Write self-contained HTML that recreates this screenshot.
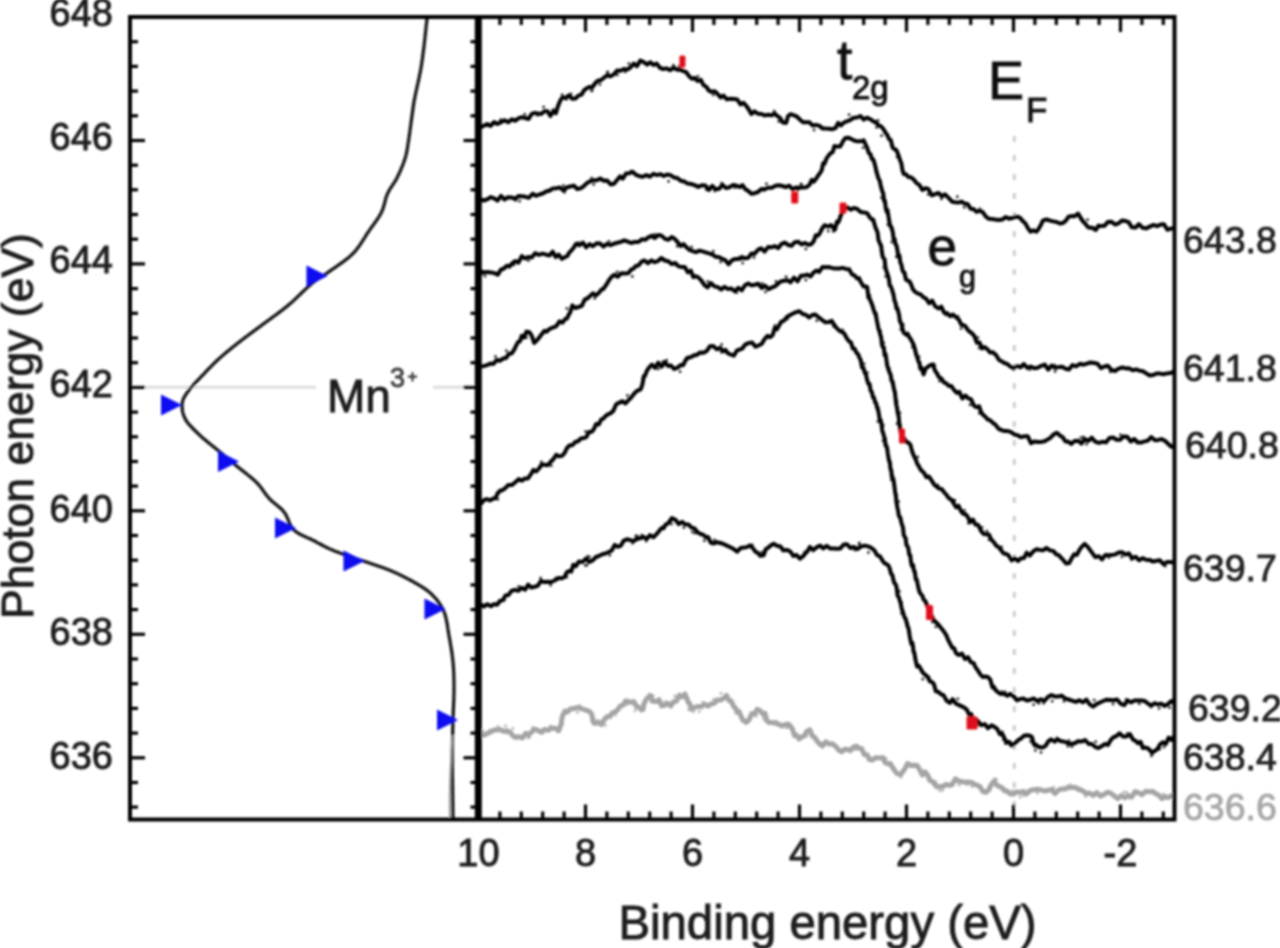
<!DOCTYPE html>
<html><head><meta charset="utf-8"><style>
html,body{margin:0;padding:0;background:#fff;}
svg{display:block;}
</style></head><body>
<svg width="1280" height="948" viewBox="0 0 1280 948">
<defs><filter id="bl" x="-5%" y="-5%" width="110%" height="110%"><feGaussianBlur stdDeviation="1.3"/></filter></defs>
<rect width="1280" height="948" fill="#fff"/>
<g filter="url(#bl)">
<line x1="130.0" y1="387.2" x2="316" y2="387.2" stroke="#dedede" stroke-width="3"/>
<line x1="433" y1="387.2" x2="478" y2="387.2" stroke="#dedede" stroke-width="3"/>
<line x1="1014.3" y1="136" x2="1014.3" y2="819.5" stroke="#cdcdcd" stroke-width="3" stroke-dasharray="6,13"/>
<path d="M480.5,127.5 L483.7,125.8 L487.2,124.0 L490.6,125.9 L494.0,122.1 L497.3,123.9 L500.9,122.4 L504.6,120.2 L508.3,122.2 L511.8,119.2 L515.1,120.8 L518.7,118.1 L522.0,117.3 L525.2,118.0 L528.6,119.0 L531.8,113.8 L534.8,112.9 L537.9,113.6 L541.2,114.0 L544.4,111.3 L547.6,111.2 L550.4,116.0 L553.5,111.2 L555.9,113.2 L557.7,106.9 L559.3,102.8 L560.8,99.5 L562.7,97.4 L565.5,98.0 L568.9,95.3 L572.0,98.7 L575.4,98.5 L578.4,95.6 L581.5,94.6 L584.2,90.1 L586.9,88.2 L589.6,86.9 L592.3,87.2 L595.0,83.5 L597.8,80.7 L600.8,80.2 L603.9,77.7 L607.2,75.3 L610.5,76.4 L613.8,74.4 L617.1,70.4 L620.5,70.7 L623.9,69.0 L627.2,69.6 L630.4,67.5 L633.8,63.7 L636.9,66.1 L640.3,60.6 L643.8,62.1 L647.2,64.6 L650.4,62.2 L653.6,65.0 L656.7,63.6 L659.9,67.8 L663.3,69.0 L666.9,68.4 L670.2,70.3 L673.6,67.6 L677.1,69.8 L680.5,69.8 L683.4,71.1 L686.2,72.2 L689.0,76.2 L692.0,78.7 L694.8,78.0 L697.7,81.0 L700.8,79.8 L703.5,85.1 L706.2,86.7 L708.9,90.6 L711.8,91.9 L714.7,91.2 L717.6,94.0 L720.6,97.5 L723.5,95.6 L726.9,99.4 L730.5,98.7 L734.0,99.1 L737.3,99.5 L740.5,104.4 L743.5,102.7 L746.2,105.8 L748.7,109.2 L751.4,114.1 L754.4,111.3 L757.8,113.7 L761.5,114.0 L764.7,115.4 L768.3,114.8 L771.6,115.4 L774.6,113.5 L777.5,116.2 L780.1,117.9 L782.8,122.6 L786.1,122.9 L788.1,116.0 L790.6,114.2 L794.1,115.3 L797.3,116.9 L800.3,120.0 L803.3,122.3 L806.3,122.3 L809.3,122.3 L812.5,125.4 L815.9,124.9 L819.1,125.6 L822.4,128.4 L825.8,128.6 L828.8,128.7 L832.4,129.2 L835.4,128.2 L838.2,122.9 L841.0,125.4 L843.5,122.8 L846.8,121.3 L850.1,120.2 L853.4,117.8 L857.0,117.5 L860.5,116.0 L863.8,119.7 L866.8,117.7 L870.1,119.1 L873.0,121.1 L875.8,122.4 L878.7,125.4 L881.2,126.5 L883.4,129.0 L885.4,132.5 L887.3,134.9 L889.1,139.2 L890.8,140.1 L892.6,147.6 L894.5,149.3 L896.1,149.6 L897.8,153.5 L899.1,157.2 L900.3,160.8 L901.3,163.0 L902.5,170.3 L903.8,174.1 L905.8,174.2 L908.3,177.0 L910.9,177.2 L913.7,179.6 L916.5,183.1 L919.4,184.9 L922.4,190.0 L925.4,188.2 L928.5,189.1 L931.8,195.4 L935.1,194.1 L938.5,193.0 L941.9,196.2 L945.3,194.5 L948.8,198.2 L952.1,201.7 L955.3,202.2 L958.5,202.6 L961.6,201.6 L964.6,203.6 L967.5,203.9 L970.6,208.7 L973.4,208.9 L976.5,211.8 L979.5,210.9 L982.5,211.8 L985.9,216.6 L988.9,218.8 L991.9,219.1 L995.3,219.6 L998.6,220.0 L1002.2,219.6 L1005.6,217.1 L1009.2,218.7 L1012.8,217.8 L1016.4,216.5 L1019.8,217.6 L1022.8,221.1 L1025.4,223.4 L1027.9,228.2 L1030.4,231.7 L1033.4,230.4 L1036.4,231.7 L1038.4,229.3 L1040.3,226.1 L1043.0,220.4 L1046.6,219.5 L1050.1,220.6 L1053.3,221.4 L1056.5,222.0 L1059.8,223.5 L1063.0,223.1 L1065.8,220.7 L1068.5,216.8 L1071.4,216.1 L1074.7,216.3 L1078.1,213.5 L1080.8,218.3 L1083.5,222.0 L1085.5,223.9 L1087.5,226.7 L1089.5,227.8 L1092.4,227.8 L1095.8,230.0 L1098.5,225.6 L1101.3,226.1 L1104.4,225.8 L1107.7,222.1 L1111.3,221.7 L1115.0,224.5 L1118.6,223.3 L1122.0,220.5 L1125.4,221.0 L1128.6,222.2 L1131.9,227.3 L1135.6,227.5 L1138.9,224.1 L1142.4,227.7 L1146.1,228.4 L1149.8,226.6 L1153.5,224.9 L1157.1,226.2 L1160.5,224.4 L1164.0,224.2 L1167.4,229.8 L1170.8,228.6 L1174.0,228.4 L1174.0,228.3" fill="none" stroke="#000" stroke-width="4.0" stroke-linejoin="round"/>
<rect x="606.3" y="70.6" width="2.6" height="2.6" fill="#000" opacity="0.8"/>
<rect x="677.8" y="65.1" width="2.6" height="2.6" fill="#000" opacity="0.8"/>
<rect x="706.3" y="87.9" width="2.6" height="2.6" fill="#000" opacity="0.8"/>
<rect x="876.7" y="119.1" width="2.6" height="2.6" fill="#000" opacity="0.8"/>
<rect x="812.8" y="128.7" width="2.6" height="2.6" fill="#000" opacity="0.8"/>
<rect x="925.7" y="186.8" width="2.6" height="2.6" fill="#000" opacity="0.8"/>
<rect x="499.5" y="118.3" width="2.6" height="2.6" fill="#000" opacity="0.8"/>
<rect x="616.0" y="73.6" width="2.6" height="2.6" fill="#000" opacity="0.8"/>
<rect x="590.4" y="89.5" width="2.6" height="2.6" fill="#000" opacity="0.8"/>
<rect x="956.0" y="195.4" width="2.6" height="2.6" fill="#000" opacity="0.8"/>
<rect x="536.0" y="114.0" width="2.6" height="2.6" fill="#000" opacity="0.8"/>
<rect x="569.7" y="92.6" width="2.6" height="2.6" fill="#000" opacity="0.8"/>
<rect x="542.3" y="105.7" width="2.6" height="2.6" fill="#000" opacity="0.8"/>
<rect x="895.8" y="155.6" width="2.6" height="2.6" fill="#000" opacity="0.8"/>
<rect x="711.9" y="93.6" width="2.6" height="2.6" fill="#000" opacity="0.8"/>
<rect x="672.1" y="63.9" width="2.6" height="2.6" fill="#000" opacity="0.8"/>
<rect x="847.8" y="113.4" width="2.6" height="2.6" fill="#000" opacity="0.8"/>
<rect x="880.3" y="134.4" width="2.6" height="2.6" fill="#000" opacity="0.8"/>
<rect x="623.9" y="70.6" width="2.6" height="2.6" fill="#000" opacity="0.8"/>
<rect x="606.5" y="71.6" width="2.6" height="2.6" fill="#000" opacity="0.8"/>
<rect x="565.3" y="97.9" width="2.6" height="2.6" fill="#000" opacity="0.8"/>
<rect x="1086.3" y="218.4" width="2.6" height="2.6" fill="#000" opacity="0.8"/>
<rect x="940.2" y="197.6" width="2.6" height="2.6" fill="#000" opacity="0.8"/>
<rect x="777.4" y="120.1" width="2.6" height="2.6" fill="#000" opacity="0.8"/>
<rect x="978.6" y="207.5" width="2.6" height="2.6" fill="#000" opacity="0.8"/>
<rect x="943.0" y="192.6" width="2.6" height="2.6" fill="#000" opacity="0.8"/>
<rect x="696.6" y="75.0" width="2.6" height="2.6" fill="#000" opacity="0.8"/>
<rect x="732.6" y="97.2" width="2.6" height="2.6" fill="#000" opacity="0.8"/>
<rect x="598.6" y="83.1" width="2.6" height="2.6" fill="#000" opacity="0.8"/>
<rect x="963.0" y="206.0" width="2.6" height="2.6" fill="#000" opacity="0.8"/>
<rect x="560.8" y="93.4" width="2.6" height="2.6" fill="#000" opacity="0.8"/>
<rect x="551.8" y="108.3" width="2.6" height="2.6" fill="#000" opacity="0.8"/>
<rect x="720.5" y="94.3" width="2.6" height="2.6" fill="#000" opacity="0.8"/>
<rect x="590.8" y="89.4" width="2.6" height="2.6" fill="#000" opacity="0.8"/>
<rect x="875.3" y="126.1" width="2.6" height="2.6" fill="#000" opacity="0.8"/>
<rect x="523.5" y="112.9" width="2.6" height="2.6" fill="#000" opacity="0.8"/>
<rect x="627.6" y="62.3" width="2.6" height="2.6" fill="#000" opacity="0.8"/>
<rect x="772.9" y="109.8" width="2.6" height="2.6" fill="#000" opacity="0.8"/>
<rect x="926.9" y="193.1" width="2.6" height="2.6" fill="#000" opacity="0.8"/>
<rect x="499.0" y="119.7" width="2.6" height="2.6" fill="#000" opacity="0.8"/>
<path d="M480.5,199.5 L483.7,200.5 L487.3,199.3 L490.7,197.1 L494.2,198.3 L497.5,200.6 L501.0,195.9 L504.5,199.5 L508.0,197.3 L511.5,197.4 L515.0,198.9 L518.5,196.1 L522.0,196.3 L525.5,196.8 L529.0,197.8 L532.6,193.7 L536.0,195.8 L539.3,194.5 L542.7,193.5 L546.1,191.5 L549.7,190.5 L552.9,188.4 L556.3,188.2 L559.8,187.4 L563.5,190.6 L566.6,187.5 L570.3,186.5 L573.9,185.6 L577.2,189.0 L580.7,188.4 L583.8,186.2 L587.2,182.8 L590.4,181.2 L593.5,180.3 L597.0,180.3 L600.2,178.6 L603.8,180.7 L607.2,180.5 L610.7,184.5 L614.0,183.8 L617.3,179.8 L620.0,176.4 L622.8,178.6 L626.0,173.5 L629.4,173.3 L632.6,171.8 L635.9,174.8 L639.5,176.2 L642.9,176.7 L646.5,175.1 L649.9,176.7 L653.5,173.8 L657.2,175.1 L660.5,174.1 L663.7,176.0 L667.2,174.5 L670.5,175.1 L673.9,177.4 L677.3,177.9 L680.7,180.8 L684.2,181.5 L687.7,183.6 L691.1,184.0 L694.6,185.1 L698.2,186.9 L701.8,185.2 L705.4,185.6 L708.9,189.9 L712.3,185.9 L715.6,189.3 L719.3,188.7 L722.4,184.8 L726.0,188.1 L729.4,187.3 L732.7,185.1 L736.2,185.6 L739.8,187.1 L742.5,185.1 L745.2,189.1 L748.3,190.9 L751.4,193.7 L754.7,193.2 L758.0,192.0 L761.4,189.0 L764.7,189.3 L768.1,187.7 L771.8,187.8 L775.5,185.8 L779.0,185.2 L782.4,186.0 L785.7,187.2 L789.2,185.7 L792.7,189.3 L795.9,187.6 L799.3,187.8 L802.9,187.4 L806.5,187.2 L809.5,184.8 L811.8,179.9 L813.8,181.7 L816.1,178.6 L818.6,174.8 L820.5,172.4 L821.8,170.0 L823.1,163.3 L824.5,163.7 L826.7,158.1 L829.3,154.6 L831.4,152.7 L832.8,152.1 L834.4,146.0 L837.1,146.6 L840.4,146.4 L843.0,141.1 L845.4,138.0 L848.8,137.8 L852.1,139.5 L855.2,140.9 L858.4,141.2 L861.4,141.3 L863.7,140.4 L865.4,144.0 L867.1,147.6 L868.8,153.1 L870.5,154.2 L871.8,158.9 L873.1,159.2 L874.3,162.5 L875.4,166.7 L876.6,172.2 L877.7,175.8 L878.7,179.1 L879.7,180.4 L880.6,185.0 L881.5,188.2 L882.3,191.6 L883.2,193.2 L884.1,200.9 L884.9,200.7 L885.8,208.4 L886.7,211.6 L887.5,210.1 L888.4,216.0 L889.3,221.4 L890.1,225.7 L891.0,226.5 L891.9,229.0 L892.8,232.2 L893.7,239.5 L894.6,239.0 L895.5,244.3 L896.4,245.1 L897.5,250.8 L898.5,256.6 L899.4,255.4 L900.4,262.7 L901.3,264.2 L902.4,269.8 L903.4,272.1 L904.5,272.6 L905.9,279.5 L907.4,280.6 L909.0,280.9 L910.9,283.9 L912.9,289.4 L915.2,291.9 L917.5,293.4 L920.5,294.3 L923.4,297.2 L926.2,298.7 L929.1,303.3 L932.2,300.6 L935.1,306.2 L938.3,308.5 L941.3,306.6 L944.1,312.6 L947.3,313.3 L950.1,316.1 L953.0,314.6 L955.7,316.9 L958.6,319.2 L961.3,324.7 L963.7,325.2 L965.8,326.7 L967.7,329.9 L969.7,331.8 L972.0,333.3 L974.4,336.1 L976.9,342.7 L979.5,342.4 L982.0,348.4 L984.6,347.0 L987.4,349.3 L990.1,352.5 L992.9,352.3 L996.0,355.0 L998.9,359.8 L1001.9,361.4 L1004.5,363.2 L1007.3,364.0 L1010.6,366.8 L1013.8,367.6 L1017.4,366.0 L1020.6,367.3 L1023.8,364.0 L1027.4,367.9 L1030.8,366.6 L1034.3,368.3 L1037.7,367.7 L1041.3,365.8 L1044.8,364.6 L1048.2,369.6 L1051.6,365.6 L1055.2,367.7 L1058.9,367.1 L1062.2,366.7 L1065.6,368.8 L1069.0,369.5 L1072.5,365.0 L1076.1,366.4 L1079.8,363.8 L1083.4,364.7 L1087.0,363.6 L1090.5,362.5 L1094.0,362.9 L1097.5,363.7 L1100.9,368.1 L1104.4,366.5 L1107.9,365.7 L1111.4,370.0 L1115.0,371.0 L1118.6,368.6 L1122.3,367.5 L1125.9,368.4 L1129.4,368.4 L1132.8,370.2 L1136.2,369.4 L1139.4,370.6 L1142.9,371.3 L1146.3,373.4 L1149.7,375.5 L1153.0,375.1 L1156.6,373.5 L1159.9,373.6 L1163.4,374.2 L1166.8,373.4 L1170.4,373.1 L1173.7,371.5 L1174.0,373.9" fill="none" stroke="#000" stroke-width="4.0" stroke-linejoin="round"/>
<rect x="762.7" y="189.0" width="2.6" height="2.6" fill="#000" opacity="0.8"/>
<rect x="896.5" y="247.2" width="2.6" height="2.6" fill="#000" opacity="0.8"/>
<rect x="733.5" y="186.3" width="2.6" height="2.6" fill="#000" opacity="0.8"/>
<rect x="800.0" y="183.0" width="2.6" height="2.6" fill="#000" opacity="0.8"/>
<rect x="876.4" y="175.3" width="2.6" height="2.6" fill="#000" opacity="0.8"/>
<rect x="890.5" y="240.7" width="2.6" height="2.6" fill="#000" opacity="0.8"/>
<rect x="905.3" y="277.5" width="2.6" height="2.6" fill="#000" opacity="0.8"/>
<rect x="590.2" y="176.8" width="2.6" height="2.6" fill="#000" opacity="0.8"/>
<rect x="1028.5" y="368.2" width="2.6" height="2.6" fill="#000" opacity="0.8"/>
<rect x="1126.8" y="366.4" width="2.6" height="2.6" fill="#000" opacity="0.8"/>
<rect x="518.4" y="199.8" width="2.6" height="2.6" fill="#000" opacity="0.8"/>
<rect x="977.8" y="346.7" width="2.6" height="2.6" fill="#000" opacity="0.8"/>
<rect x="592.4" y="183.1" width="2.6" height="2.6" fill="#000" opacity="0.8"/>
<rect x="944.3" y="313.6" width="2.6" height="2.6" fill="#000" opacity="0.8"/>
<rect x="959.8" y="327.2" width="2.6" height="2.6" fill="#000" opacity="0.8"/>
<rect x="765.2" y="182.5" width="2.6" height="2.6" fill="#000" opacity="0.8"/>
<rect x="720.4" y="181.8" width="2.6" height="2.6" fill="#000" opacity="0.8"/>
<rect x="1053.5" y="363.9" width="2.6" height="2.6" fill="#000" opacity="0.8"/>
<rect x="896.4" y="247.5" width="2.6" height="2.6" fill="#000" opacity="0.8"/>
<rect x="713.5" y="189.7" width="2.6" height="2.6" fill="#000" opacity="0.8"/>
<rect x="514.5" y="199.0" width="2.6" height="2.6" fill="#000" opacity="0.8"/>
<rect x="861.8" y="146.4" width="2.6" height="2.6" fill="#000" opacity="0.8"/>
<rect x="895.0" y="255.5" width="2.6" height="2.6" fill="#000" opacity="0.8"/>
<rect x="799.6" y="182.8" width="2.6" height="2.6" fill="#000" opacity="0.8"/>
<rect x="705.0" y="188.4" width="2.6" height="2.6" fill="#000" opacity="0.8"/>
<rect x="976.5" y="336.2" width="2.6" height="2.6" fill="#000" opacity="0.8"/>
<rect x="890.9" y="227.1" width="2.6" height="2.6" fill="#000" opacity="0.8"/>
<rect x="629.7" y="169.8" width="2.6" height="2.6" fill="#000" opacity="0.8"/>
<rect x="956.6" y="315.1" width="2.6" height="2.6" fill="#000" opacity="0.8"/>
<rect x="667.3" y="180.0" width="2.6" height="2.6" fill="#000" opacity="0.8"/>
<rect x="563.4" y="190.9" width="2.6" height="2.6" fill="#000" opacity="0.8"/>
<rect x="1003.1" y="361.2" width="2.6" height="2.6" fill="#000" opacity="0.8"/>
<rect x="1012.5" y="368.2" width="2.6" height="2.6" fill="#000" opacity="0.8"/>
<rect x="879.2" y="185.9" width="2.6" height="2.6" fill="#000" opacity="0.8"/>
<rect x="562.1" y="184.3" width="2.6" height="2.6" fill="#000" opacity="0.8"/>
<rect x="1108.9" y="370.5" width="2.6" height="2.6" fill="#000" opacity="0.8"/>
<rect x="796.5" y="188.7" width="2.6" height="2.6" fill="#000" opacity="0.8"/>
<rect x="1053.8" y="370.1" width="2.6" height="2.6" fill="#000" opacity="0.8"/>
<rect x="880.3" y="196.4" width="2.6" height="2.6" fill="#000" opacity="0.8"/>
<rect x="886.6" y="223.4" width="2.6" height="2.6" fill="#000" opacity="0.8"/>
<path d="M480.5,271.0 L483.8,272.4 L487.4,272.0 L490.9,272.4 L494.5,273.1 L497.8,274.7 L500.9,269.6 L503.9,268.5 L506.9,265.7 L509.4,266.6 L512.4,263.1 L515.2,261.1 L518.5,262.6 L521.8,256.1 L525.0,258.5 L528.2,257.1 L531.7,257.4 L535.1,253.2 L538.8,254.8 L542.5,253.6 L546.1,254.6 L549.5,255.5 L552.7,251.6 L555.7,257.1 L558.7,254.6 L561.9,258.9 L565.1,257.0 L567.2,256.2 L568.7,253.4 L570.5,251.3 L573.1,248.5 L576.1,243.8 L579.3,245.3 L582.9,242.5 L586.2,247.4 L589.6,244.1 L592.9,246.2 L596.6,243.3 L600.1,243.5 L603.4,246.6 L607.0,243.9 L610.5,245.2 L613.9,243.7 L617.3,242.8 L620.8,241.8 L624.3,240.4 L627.8,241.7 L631.2,243.0 L634.8,241.9 L638.4,242.0 L641.9,239.3 L645.4,239.8 L648.6,237.1 L651.7,236.0 L654.8,238.0 L658.3,234.9 L661.5,235.6 L665.0,238.9 L668.5,239.8 L671.7,237.1 L674.7,238.7 L677.6,242.1 L680.7,246.0 L683.6,244.1 L686.5,247.3 L689.5,249.9 L692.7,251.1 L695.9,252.2 L699.4,250.6 L702.5,251.4 L705.6,252.3 L709.0,253.3 L712.4,254.5 L715.4,256.7 L718.7,257.0 L722.0,258.8 L725.3,260.2 L728.6,264.2 L732.0,260.2 L735.4,259.0 L738.7,259.0 L742.2,257.8 L745.3,258.2 L748.5,257.7 L751.5,253.4 L754.6,253.8 L757.8,249.9 L761.1,248.3 L764.6,251.6 L768.0,247.1 L771.4,247.3 L774.9,246.1 L778.1,248.2 L781.2,244.2 L784.8,242.6 L788.3,245.0 L791.5,245.8 L794.8,242.2 L798.1,241.7 L801.7,244.5 L805.0,242.9 L808.2,244.7 L811.2,244.3 L813.7,241.3 L815.8,235.2 L817.8,235.8 L819.7,233.5 L821.9,228.8 L824.6,225.2 L827.9,226.5 L831.5,225.4 L834.9,229.7 L837.0,221.6 L838.2,222.4 L839.3,220.1 L840.5,216.2 L842.0,212.9 L844.2,208.3 L847.5,207.5 L850.7,209.7 L853.8,208.0 L857.3,208.9 L860.6,211.9 L863.8,212.4 L867.1,213.1 L869.8,217.3 L871.8,219.4 L873.2,219.5 L874.6,224.7 L875.8,228.5 L876.8,230.4 L877.7,233.2 L878.5,240.2 L879.4,242.0 L880.2,244.1 L881.1,245.6 L882.0,252.9 L882.8,257.2 L883.7,258.1 L884.6,259.5 L885.4,267.0 L886.3,270.7 L887.2,273.3 L888.0,275.4 L888.9,279.0 L889.7,285.4 L890.6,286.1 L891.5,288.0 L892.5,291.3 L893.5,294.6 L894.5,300.7 L895.5,302.9 L896.5,308.6 L897.3,308.2 L898.1,310.9 L899.1,314.9 L900.0,321.7 L901.0,322.7 L902.2,327.1 L903.4,332.1 L905.1,334.0 L907.5,333.6 L909.3,337.2 L910.8,339.2 L912.4,342.4 L913.7,344.8 L915.0,349.5 L916.2,354.5 L917.5,358.1 L918.5,361.6 L919.4,362.5 L920.3,368.8 L921.4,367.7 L923.6,374.3 L925.6,368.5 L927.5,367.1 L930.2,365.2 L932.9,364.4 L934.9,370.4 L936.9,373.3 L939.0,377.2 L941.4,378.5 L943.9,382.3 L946.5,383.6 L949.0,386.0 L951.4,386.1 L954.0,389.9 L956.8,392.8 L959.3,391.9 L962.3,398.5 L965.4,395.5 L968.2,398.4 L971.0,399.1 L974.0,405.8 L976.6,407.2 L979.1,406.3 L981.4,412.8 L983.4,415.1 L985.4,416.7 L987.7,419.5 L990.0,420.1 L992.6,422.6 L995.6,424.9 L998.6,428.8 L1001.6,430.1 L1004.7,431.1 L1007.9,431.0 L1011.1,432.2 L1014.3,434.3 L1017.7,435.4 L1021.1,437.1 L1024.5,436.2 L1027.8,436.3 L1031.0,443.1 L1034.3,441.6 L1037.9,442.0 L1041.4,441.9 L1044.6,441.3 L1047.4,439.6 L1050.3,437.9 L1053.6,434.5 L1056.8,432.7 L1060.0,435.6 L1062.8,437.3 L1065.5,441.5 L1068.2,441.6 L1071.2,443.9 L1074.6,441.0 L1078.1,440.7 L1081.4,443.6 L1084.9,439.1 L1088.4,440.9 L1091.7,437.6 L1095.2,441.7 L1098.7,442.9 L1102.4,441.8 L1105.9,442.4 L1109.4,437.9 L1113.0,437.5 L1116.6,439.8 L1120.1,439.7 L1123.5,436.4 L1127.2,436.8 L1130.8,441.5 L1134.3,439.0 L1137.7,442.5 L1141.0,442.6 L1144.6,441.4 L1147.9,440.6 L1151.2,437.0 L1155.0,440.3 L1158.3,439.9 L1161.5,439.1 L1164.9,440.8 L1168.1,443.8 L1171.3,446.8 L1174.0,445.8" fill="none" stroke="#000" stroke-width="4.0" stroke-linejoin="round"/>
<rect x="882.5" y="266.2" width="2.6" height="2.6" fill="#000" opacity="0.8"/>
<rect x="738.4" y="255.8" width="2.6" height="2.6" fill="#000" opacity="0.8"/>
<rect x="512.7" y="263.5" width="2.6" height="2.6" fill="#000" opacity="0.8"/>
<rect x="752.7" y="256.2" width="2.6" height="2.6" fill="#000" opacity="0.8"/>
<rect x="1119.3" y="433.5" width="2.6" height="2.6" fill="#000" opacity="0.8"/>
<rect x="831.9" y="230.1" width="2.6" height="2.6" fill="#000" opacity="0.8"/>
<rect x="933.5" y="363.8" width="2.6" height="2.6" fill="#000" opacity="0.8"/>
<rect x="911.0" y="345.6" width="2.6" height="2.6" fill="#000" opacity="0.8"/>
<rect x="836.6" y="221.6" width="2.6" height="2.6" fill="#000" opacity="0.8"/>
<rect x="829.3" y="223.1" width="2.6" height="2.6" fill="#000" opacity="0.8"/>
<rect x="653.5" y="233.1" width="2.6" height="2.6" fill="#000" opacity="0.8"/>
<rect x="899.5" y="328.2" width="2.6" height="2.6" fill="#000" opacity="0.8"/>
<rect x="1079.6" y="436.4" width="2.6" height="2.6" fill="#000" opacity="0.8"/>
<rect x="968.8" y="403.5" width="2.6" height="2.6" fill="#000" opacity="0.8"/>
<rect x="607.6" y="240.0" width="2.6" height="2.6" fill="#000" opacity="0.8"/>
<rect x="480.7" y="272.6" width="2.6" height="2.6" fill="#000" opacity="0.8"/>
<rect x="826.9" y="229.7" width="2.6" height="2.6" fill="#000" opacity="0.8"/>
<rect x="938.3" y="379.8" width="2.6" height="2.6" fill="#000" opacity="0.8"/>
<rect x="887.2" y="277.9" width="2.6" height="2.6" fill="#000" opacity="0.8"/>
<rect x="719.4" y="260.7" width="2.6" height="2.6" fill="#000" opacity="0.8"/>
<rect x="978.0" y="411.9" width="2.6" height="2.6" fill="#000" opacity="0.8"/>
<rect x="740.8" y="254.8" width="2.6" height="2.6" fill="#000" opacity="0.8"/>
<rect x="922.1" y="373.5" width="2.6" height="2.6" fill="#000" opacity="0.8"/>
<rect x="902.1" y="323.3" width="2.6" height="2.6" fill="#000" opacity="0.8"/>
<rect x="477.4" y="266.4" width="2.6" height="2.6" fill="#000" opacity="0.8"/>
<rect x="711.3" y="252.6" width="2.6" height="2.6" fill="#000" opacity="0.8"/>
<rect x="917.7" y="355.4" width="2.6" height="2.6" fill="#000" opacity="0.8"/>
<rect x="675.9" y="244.9" width="2.6" height="2.6" fill="#000" opacity="0.8"/>
<rect x="651.0" y="233.7" width="2.6" height="2.6" fill="#000" opacity="0.8"/>
<rect x="527.0" y="259.3" width="2.6" height="2.6" fill="#000" opacity="0.8"/>
<rect x="483.7" y="274.8" width="2.6" height="2.6" fill="#000" opacity="0.8"/>
<rect x="884.4" y="275.1" width="2.6" height="2.6" fill="#000" opacity="0.8"/>
<rect x="577.1" y="241.3" width="2.6" height="2.6" fill="#000" opacity="0.8"/>
<rect x="1085.2" y="442.8" width="2.6" height="2.6" fill="#000" opacity="0.8"/>
<rect x="741.4" y="261.7" width="2.6" height="2.6" fill="#000" opacity="0.8"/>
<rect x="905.2" y="334.5" width="2.6" height="2.6" fill="#000" opacity="0.8"/>
<rect x="690.2" y="245.7" width="2.6" height="2.6" fill="#000" opacity="0.8"/>
<rect x="712.0" y="249.9" width="2.6" height="2.6" fill="#000" opacity="0.8"/>
<rect x="1082.1" y="435.7" width="2.6" height="2.6" fill="#000" opacity="0.8"/>
<rect x="804.6" y="247.6" width="2.6" height="2.6" fill="#000" opacity="0.8"/>
<path d="M480.5,366.6 L483.6,366.1 L487.0,365.1 L490.4,363.6 L493.6,363.9 L496.6,359.9 L499.8,360.7 L503.2,358.5 L506.0,358.0 L508.8,354.0 L511.7,353.3 L514.1,349.8 L516.1,345.6 L518.0,342.1 L519.9,341.4 L521.8,335.7 L523.8,337.7 L526.5,331.6 L529.5,332.3 L531.8,335.8 L534.1,343.0 L537.2,340.1 L539.8,336.8 L542.3,333.4 L544.5,330.7 L546.7,331.7 L549.4,329.0 L552.6,327.6 L556.1,326.4 L559.5,321.4 L562.5,322.6 L565.1,319.1 L567.0,318.5 L568.5,315.1 L570.2,312.4 L572.4,305.4 L575.3,308.0 L578.5,307.0 L581.8,305.8 L584.7,299.6 L587.3,298.4 L590.1,295.9 L593.0,293.3 L595.8,295.5 L598.7,293.0 L601.4,289.7 L603.9,288.2 L606.5,284.5 L609.1,280.0 L611.7,276.7 L614.3,274.8 L617.7,276.8 L621.3,273.2 L624.8,273.4 L628.2,273.3 L631.2,269.6 L633.7,268.5 L635.9,265.9 L638.4,265.6 L641.5,261.7 L644.6,260.4 L647.9,263.3 L651.5,260.4 L654.8,262.2 L658.0,261.0 L661.3,258.0 L664.8,260.5 L668.3,261.3 L671.8,264.1 L675.2,263.0 L678.5,266.4 L681.7,267.1 L684.8,267.0 L687.8,272.4 L690.7,270.6 L693.3,277.1 L695.9,276.2 L698.5,277.5 L701.3,280.5 L704.5,285.1 L707.6,287.4 L710.9,283.0 L714.4,286.4 L717.8,287.1 L721.3,289.5 L724.5,286.8 L727.7,288.9 L731.4,288.5 L734.8,291.3 L738.3,287.8 L741.8,290.3 L745.0,285.2 L748.2,283.4 L751.4,285.4 L754.8,284.7 L758.3,283.8 L761.7,288.0 L765.1,285.7 L768.5,289.2 L771.6,287.6 L774.8,286.4 L777.6,284.1 L780.7,281.4 L784.0,280.7 L787.2,280.2 L790.5,282.4 L794.0,277.6 L797.6,281.3 L800.9,275.8 L804.1,275.6 L807.2,274.6 L810.5,276.4 L813.4,272.7 L816.3,270.6 L819.2,271.9 L822.5,267.0 L825.8,267.2 L829.0,267.1 L832.8,268.2 L836.0,268.5 L839.1,268.5 L842.7,267.9 L846.0,268.9 L849.1,269.2 L852.0,274.4 L854.8,275.6 L857.1,278.6 L859.0,278.1 L860.9,282.3 L863.5,286.4 L866.3,286.5 L867.2,287.3 L867.8,292.3 L868.5,297.9 L869.2,297.6 L870.5,300.8 L872.1,304.6 L873.7,309.8 L875.0,313.7 L875.7,313.5 L876.2,317.2 L877.0,321.4 L877.8,325.1 L878.6,329.5 L879.5,331.1 L880.4,335.2 L881.2,337.6 L882.0,345.0 L882.9,347.2 L883.8,347.2 L884.6,355.3 L885.5,354.0 L886.3,358.9 L887.2,365.6 L888.0,368.0 L888.9,371.0 L889.8,372.9 L890.7,375.0 L891.6,380.9 L892.5,381.5 L893.3,385.5 L894.1,389.9 L894.8,391.5 L895.4,397.0 L896.0,402.7 L896.5,405.7 L897.1,408.1 L897.6,412.2 L898.2,414.8 L898.7,416.3 L899.1,422.1 L899.6,424.2 L900.2,429.6 L900.9,433.8 L902.2,434.8 L904.1,438.5 L906.4,441.8 L908.7,442.8 L910.4,444.8 L911.9,450.7 L913.3,454.6 L914.5,457.1 L915.9,460.0 L917.3,463.9 L918.8,466.2 L920.3,469.2 L922.0,471.1 L924.1,473.0 L926.4,477.2 L928.8,476.5 L931.7,480.6 L934.3,484.8 L936.7,486.6 L939.2,488.6 L941.6,489.0 L944.3,492.5 L946.6,495.0 L948.9,498.3 L951.2,499.5 L953.7,503.5 L956.2,507.3 L958.4,505.6 L960.8,510.7 L963.1,513.8 L965.4,514.1 L967.8,517.1 L970.3,522.2 L972.9,519.5 L975.5,524.6 L978.2,525.0 L981.0,530.8 L983.6,534.1 L986.2,534.2 L988.8,534.4 L991.3,539.6 L993.8,542.1 L996.2,545.7 L998.5,547.0 L1000.9,550.0 L1003.7,553.4 L1006.2,554.0 L1008.7,555.5 L1011.7,560.5 L1014.6,558.0 L1018.0,560.9 L1021.0,558.2 L1024.0,558.1 L1026.7,552.7 L1029.7,555.7 L1033.1,551.4 L1036.6,549.2 L1039.8,549.9 L1043.1,550.3 L1046.4,548.0 L1049.9,550.4 L1053.5,551.1 L1056.3,554.4 L1058.7,555.1 L1060.7,557.3 L1063.0,559.7 L1066.3,563.6 L1069.2,563.0 L1071.6,558.4 L1074.1,554.2 L1076.9,554.9 L1079.3,550.1 L1081.8,546.6 L1084.7,543.9 L1088.0,547.2 L1090.0,549.9 L1091.6,552.1 L1093.3,554.4 L1095.5,557.2 L1098.8,556.2 L1101.9,559.5 L1105.4,554.9 L1108.5,555.2 L1111.6,555.1 L1115.2,554.4 L1118.6,552.6 L1122.0,552.2 L1125.4,554.6 L1128.8,553.4 L1132.2,558.3 L1135.6,556.7 L1139.1,560.3 L1142.6,558.1 L1146.1,559.7 L1149.6,559.9 L1153.0,561.6 L1156.6,560.8 L1159.9,560.2 L1163.4,564.3 L1166.8,562.1 L1170.4,562.0 L1173.7,562.4 L1174.0,563.5" fill="none" stroke="#000" stroke-width="4.0" stroke-linejoin="round"/>
<rect x="880.1" y="335.2" width="2.6" height="2.6" fill="#000" opacity="0.8"/>
<rect x="804.6" y="278.7" width="2.6" height="2.6" fill="#000" opacity="0.8"/>
<rect x="525.0" y="336.4" width="2.6" height="2.6" fill="#000" opacity="0.8"/>
<rect x="593.4" y="297.0" width="2.6" height="2.6" fill="#000" opacity="0.8"/>
<rect x="494.2" y="355.1" width="2.6" height="2.6" fill="#000" opacity="0.8"/>
<rect x="953.3" y="499.2" width="2.6" height="2.6" fill="#000" opacity="0.8"/>
<rect x="1120.6" y="555.5" width="2.6" height="2.6" fill="#000" opacity="0.8"/>
<rect x="602.4" y="288.3" width="2.6" height="2.6" fill="#000" opacity="0.8"/>
<rect x="615.9" y="270.6" width="2.6" height="2.6" fill="#000" opacity="0.8"/>
<rect x="1164.0" y="564.8" width="2.6" height="2.6" fill="#000" opacity="0.8"/>
<rect x="980.7" y="526.0" width="2.6" height="2.6" fill="#000" opacity="0.8"/>
<rect x="868.6" y="294.1" width="2.6" height="2.6" fill="#000" opacity="0.8"/>
<rect x="706.5" y="280.2" width="2.6" height="2.6" fill="#000" opacity="0.8"/>
<rect x="895.8" y="422.4" width="2.6" height="2.6" fill="#000" opacity="0.8"/>
<rect x="987.8" y="538.5" width="2.6" height="2.6" fill="#000" opacity="0.8"/>
<rect x="916.4" y="455.6" width="2.6" height="2.6" fill="#000" opacity="0.8"/>
<rect x="764.2" y="290.6" width="2.6" height="2.6" fill="#000" opacity="0.8"/>
<rect x="1107.6" y="556.3" width="2.6" height="2.6" fill="#000" opacity="0.8"/>
<rect x="967.0" y="521.8" width="2.6" height="2.6" fill="#000" opacity="0.8"/>
<rect x="505.1" y="349.5" width="2.6" height="2.6" fill="#000" opacity="0.8"/>
<rect x="774.7" y="280.1" width="2.6" height="2.6" fill="#000" opacity="0.8"/>
<rect x="882.5" y="341.6" width="2.6" height="2.6" fill="#000" opacity="0.8"/>
<rect x="1000.4" y="545.7" width="2.6" height="2.6" fill="#000" opacity="0.8"/>
<rect x="1130.1" y="558.2" width="2.6" height="2.6" fill="#000" opacity="0.8"/>
<rect x="892.2" y="382.7" width="2.6" height="2.6" fill="#000" opacity="0.8"/>
<rect x="784.8" y="275.4" width="2.6" height="2.6" fill="#000" opacity="0.8"/>
<rect x="735.4" y="291.3" width="2.6" height="2.6" fill="#000" opacity="0.8"/>
<rect x="888.1" y="367.5" width="2.6" height="2.6" fill="#000" opacity="0.8"/>
<rect x="953.4" y="499.1" width="2.6" height="2.6" fill="#000" opacity="0.8"/>
<rect x="761.1" y="282.2" width="2.6" height="2.6" fill="#000" opacity="0.8"/>
<rect x="936.6" y="483.7" width="2.6" height="2.6" fill="#000" opacity="0.8"/>
<rect x="898.6" y="411.5" width="2.6" height="2.6" fill="#000" opacity="0.8"/>
<rect x="565.6" y="307.2" width="2.6" height="2.6" fill="#000" opacity="0.8"/>
<rect x="879.2" y="329.6" width="2.6" height="2.6" fill="#000" opacity="0.8"/>
<rect x="895.8" y="400.1" width="2.6" height="2.6" fill="#000" opacity="0.8"/>
<rect x="985.6" y="529.8" width="2.6" height="2.6" fill="#000" opacity="0.8"/>
<rect x="963.0" y="509.0" width="2.6" height="2.6" fill="#000" opacity="0.8"/>
<rect x="631.0" y="275.1" width="2.6" height="2.6" fill="#000" opacity="0.8"/>
<rect x="952.2" y="498.8" width="2.6" height="2.6" fill="#000" opacity="0.8"/>
<rect x="899.2" y="426.3" width="2.6" height="2.6" fill="#000" opacity="0.8"/>
<path d="M480.5,504.3 L483.7,500.4 L486.7,499.0 L489.9,500.4 L492.8,498.7 L495.4,498.3 L497.6,493.4 L499.9,490.8 L502.4,490.2 L505.3,488.2 L508.4,484.9 L511.8,485.1 L515.3,482.3 L518.7,479.1 L521.9,480.8 L524.9,478.4 L527.8,478.6 L530.6,474.7 L533.5,469.9 L536.2,471.5 L539.0,468.5 L541.8,464.4 L544.7,464.8 L547.7,465.2 L550.5,462.0 L553.5,459.0 L556.2,454.8 L558.9,456.4 L561.9,455.9 L564.5,453.2 L567.2,447.7 L569.8,445.2 L572.4,445.2 L575.2,442.0 L578.0,441.3 L580.9,438.5 L583.6,438.1 L586.3,437.1 L589.0,432.0 L591.5,431.8 L593.8,429.3 L596.2,423.9 L598.8,424.5 L601.1,419.6 L603.5,418.5 L605.8,415.8 L608.3,414.2 L610.7,413.1 L613.3,410.9 L616.2,404.3 L619.4,402.6 L622.6,401.2 L625.5,403.5 L628.1,400.5 L630.9,397.9 L633.7,394.2 L636.4,391.3 L638.8,390.1 L640.8,389.2 L642.2,385.1 L643.1,380.7 L643.9,375.9 L645.0,375.8 L646.5,371.6 L648.7,367.9 L651.9,364.6 L655.0,367.9 L658.3,362.6 L661.5,366.7 L664.9,362.2 L668.1,366.0 L671.0,365.6 L674.3,369.0 L677.5,367.7 L680.6,365.1 L683.2,365.2 L685.5,360.4 L687.8,357.7 L690.6,357.2 L693.7,355.5 L696.9,354.8 L700.2,352.4 L703.5,352.7 L706.8,350.9 L710.0,346.2 L713.2,346.1 L716.8,349.3 L720.1,347.9 L723.3,351.3 L725.5,349.8 L727.7,353.1 L730.6,354.5 L733.8,355.7 L736.8,350.7 L739.4,349.6 L742.1,348.7 L745.1,344.6 L748.5,343.1 L752.1,342.5 L755.5,346.8 L759.0,345.2 L761.8,343.8 L764.6,339.0 L767.5,335.8 L770.1,337.3 L772.6,335.3 L774.8,327.9 L776.8,329.4 L779.0,325.6 L781.4,321.6 L784.1,320.6 L787.1,316.8 L789.8,315.2 L793.0,313.5 L796.1,312.1 L799.4,311.2 L802.7,314.0 L806.1,314.9 L809.1,317.5 L812.2,315.0 L815.3,314.5 L818.6,317.2 L822.0,319.9 L825.4,322.3 L828.7,322.1 L831.7,320.9 L834.3,325.1 L837.0,328.4 L839.3,330.6 L841.6,332.0 L844.1,333.2 L846.4,337.6 L848.8,341.1 L851.0,342.5 L852.8,348.4 L854.7,348.7 L856.4,352.8 L858.0,354.1 L859.4,357.6 L860.7,360.2 L862.1,367.5 L863.5,368.0 L864.7,372.7 L866.0,374.7 L867.2,380.2 L868.4,383.9 L869.5,383.8 L870.7,390.8 L871.8,391.9 L873.0,397.4 L874.0,398.1 L875.1,401.8 L876.1,403.2 L877.1,407.8 L878.0,409.5 L878.9,414.2 L879.7,419.3 L880.6,420.1 L881.5,424.0 L882.3,431.1 L883.2,433.0 L884.0,436.7 L884.8,438.3 L885.6,445.7 L886.3,445.5 L887.1,448.0 L887.8,453.5 L888.5,457.7 L889.1,461.1 L889.8,461.9 L890.5,469.3 L891.2,469.9 L891.8,476.9 L892.5,477.1 L893.3,478.8 L893.9,482.4 L894.6,487.8 L895.2,493.0 L895.8,495.3 L896.3,500.7 L896.8,504.4 L897.4,507.7 L898.0,510.0 L898.7,514.9 L899.5,517.2 L900.3,517.3 L901.2,522.0 L902.1,524.9 L903.0,527.6 L903.8,535.4 L904.7,536.6 L905.6,538.3 L906.5,545.3 L907.5,546.1 L908.4,548.7 L909.3,554.7 L910.2,555.1 L911.1,562.7 L912.0,566.1 L913.0,564.8 L913.9,570.9 L914.8,571.4 L915.8,579.6 L916.8,579.6 L917.7,584.5 L918.7,589.1 L919.8,592.6 L920.9,594.2 L922.3,595.6 L923.7,599.6 L925.4,601.2 L927.1,605.2 L928.8,611.3 L930.3,613.6 L931.8,615.9 L933.5,620.0 L935.5,621.8 L937.7,623.9 L940.1,626.7 L942.3,629.4 L944.3,632.2 L946.4,635.4 L948.4,640.4 L950.3,644.0 L952.1,647.2 L954.0,648.0 L956.1,653.2 L958.9,655.0 L962.0,653.6 L965.0,659.1 L967.9,657.1 L970.7,662.1 L973.5,663.2 L975.8,667.7 L978.0,670.6 L980.4,674.5 L982.7,677.0 L985.3,676.6 L987.9,677.0 L990.3,679.7 L992.5,687.4 L993.9,686.9 L995.2,689.5 L997.2,691.6 L1000.5,694.0 L1003.9,693.5 L1007.4,695.8 L1010.6,693.8 L1013.9,696.6 L1016.8,700.3 L1019.9,699.1 L1023.3,698.5 L1026.8,700.5 L1030.4,699.7 L1033.9,698.5 L1037.4,701.1 L1040.9,699.2 L1044.4,701.0 L1047.9,697.0 L1051.4,695.1 L1054.6,696.4 L1058.2,696.6 L1061.6,695.6 L1065.0,698.4 L1068.5,699.5 L1072.0,700.7 L1075.7,701.9 L1079.3,700.3 L1082.8,702.4 L1086.4,699.7 L1089.7,704.4 L1093.1,706.7 L1096.5,704.1 L1099.9,702.5 L1103.2,701.0 L1106.6,699.7 L1110.2,699.9 L1113.6,700.2 L1117.1,699.5 L1120.7,703.8 L1124.3,705.1 L1127.7,700.4 L1131.0,702.4 L1134.4,700.6 L1138.0,700.5 L1141.4,700.6 L1144.6,700.9 L1148.2,703.8 L1151.4,705.6 L1154.7,703.2 L1157.8,704.5 L1161.2,703.6 L1164.4,705.9 L1168.0,704.1 L1170.7,701.3 L1172.9,702.1 L1174.0,699.0" fill="none" stroke="#000" stroke-width="4.0" stroke-linejoin="round"/>
<rect x="881.9" y="423.9" width="2.6" height="2.6" fill="#000" opacity="0.8"/>
<rect x="549.9" y="464.4" width="2.6" height="2.6" fill="#000" opacity="0.8"/>
<rect x="626.1" y="394.1" width="2.6" height="2.6" fill="#000" opacity="0.8"/>
<rect x="641.2" y="377.7" width="2.6" height="2.6" fill="#000" opacity="0.8"/>
<rect x="1111.7" y="702.7" width="2.6" height="2.6" fill="#000" opacity="0.8"/>
<rect x="1037.6" y="702.0" width="2.6" height="2.6" fill="#000" opacity="0.8"/>
<rect x="832.4" y="325.3" width="2.6" height="2.6" fill="#000" opacity="0.8"/>
<rect x="912.7" y="569.5" width="2.6" height="2.6" fill="#000" opacity="0.8"/>
<rect x="786.4" y="317.5" width="2.6" height="2.6" fill="#000" opacity="0.8"/>
<rect x="1050.9" y="699.8" width="2.6" height="2.6" fill="#000" opacity="0.8"/>
<rect x="540.0" y="460.6" width="2.6" height="2.6" fill="#000" opacity="0.8"/>
<rect x="1062.7" y="700.0" width="2.6" height="2.6" fill="#000" opacity="0.8"/>
<rect x="1092.9" y="698.8" width="2.6" height="2.6" fill="#000" opacity="0.8"/>
<rect x="873.1" y="395.8" width="2.6" height="2.6" fill="#000" opacity="0.8"/>
<rect x="883.0" y="438.6" width="2.6" height="2.6" fill="#000" opacity="0.8"/>
<rect x="661.7" y="360.2" width="2.6" height="2.6" fill="#000" opacity="0.8"/>
<rect x="685.4" y="356.3" width="2.6" height="2.6" fill="#000" opacity="0.8"/>
<rect x="1124.8" y="698.2" width="2.6" height="2.6" fill="#000" opacity="0.8"/>
<rect x="1032.3" y="703.3" width="2.6" height="2.6" fill="#000" opacity="0.8"/>
<rect x="927.8" y="614.0" width="2.6" height="2.6" fill="#000" opacity="0.8"/>
<rect x="934.6" y="625.5" width="2.6" height="2.6" fill="#000" opacity="0.8"/>
<rect x="873.4" y="401.1" width="2.6" height="2.6" fill="#000" opacity="0.8"/>
<rect x="584.3" y="430.2" width="2.6" height="2.6" fill="#000" opacity="0.8"/>
<rect x="665.4" y="358.9" width="2.6" height="2.6" fill="#000" opacity="0.8"/>
<rect x="862.8" y="362.5" width="2.6" height="2.6" fill="#000" opacity="0.8"/>
<rect x="496.5" y="497.9" width="2.6" height="2.6" fill="#000" opacity="0.8"/>
<rect x="897.3" y="500.2" width="2.6" height="2.6" fill="#000" opacity="0.8"/>
<rect x="1137.9" y="702.4" width="2.6" height="2.6" fill="#000" opacity="0.8"/>
<rect x="678.8" y="370.4" width="2.6" height="2.6" fill="#000" opacity="0.8"/>
<rect x="891.1" y="473.6" width="2.6" height="2.6" fill="#000" opacity="0.8"/>
<rect x="1042.3" y="701.9" width="2.6" height="2.6" fill="#000" opacity="0.8"/>
<rect x="1157.8" y="707.1" width="2.6" height="2.6" fill="#000" opacity="0.8"/>
<rect x="841.3" y="328.6" width="2.6" height="2.6" fill="#000" opacity="0.8"/>
<rect x="881.7" y="439.4" width="2.6" height="2.6" fill="#000" opacity="0.8"/>
<rect x="876.9" y="406.3" width="2.6" height="2.6" fill="#000" opacity="0.8"/>
<rect x="1168.2" y="706.4" width="2.6" height="2.6" fill="#000" opacity="0.8"/>
<rect x="1003.8" y="690.6" width="2.6" height="2.6" fill="#000" opacity="0.8"/>
<rect x="907.4" y="551.9" width="2.6" height="2.6" fill="#000" opacity="0.8"/>
<rect x="1000.5" y="690.4" width="2.6" height="2.6" fill="#000" opacity="0.8"/>
<rect x="878.4" y="420.4" width="2.6" height="2.6" fill="#000" opacity="0.8"/>
<rect x="720.1" y="351.0" width="2.6" height="2.6" fill="#000" opacity="0.8"/>
<rect x="582.3" y="436.9" width="2.6" height="2.6" fill="#000" opacity="0.8"/>
<rect x="895.0" y="493.1" width="2.6" height="2.6" fill="#000" opacity="0.8"/>
<rect x="876.6" y="420.2" width="2.6" height="2.6" fill="#000" opacity="0.8"/>
<rect x="891.8" y="479.6" width="2.6" height="2.6" fill="#000" opacity="0.8"/>
<rect x="950.8" y="647.2" width="2.6" height="2.6" fill="#000" opacity="0.8"/>
<rect x="889.9" y="478.4" width="2.6" height="2.6" fill="#000" opacity="0.8"/>
<rect x="931.1" y="620.7" width="2.6" height="2.6" fill="#000" opacity="0.8"/>
<rect x="866.0" y="371.2" width="2.6" height="2.6" fill="#000" opacity="0.8"/>
<rect x="656.9" y="367.6" width="2.6" height="2.6" fill="#000" opacity="0.8"/>
<rect x="815.5" y="319.4" width="2.6" height="2.6" fill="#000" opacity="0.8"/>
<rect x="1149.6" y="705.6" width="2.6" height="2.6" fill="#000" opacity="0.8"/>
<rect x="720.3" y="343.1" width="2.6" height="2.6" fill="#000" opacity="0.8"/>
<rect x="973.3" y="662.2" width="2.6" height="2.6" fill="#000" opacity="0.8"/>
<rect x="773.8" y="324.1" width="2.6" height="2.6" fill="#000" opacity="0.8"/>
<path d="M480.5,604.3 L484.0,606.5 L487.3,604.2 L490.9,606.3 L494.0,604.1 L497.1,604.8 L499.9,601.0 L502.9,600.1 L505.5,595.4 L508.4,595.1 L511.5,590.9 L514.8,589.8 L518.3,590.8 L521.7,587.8 L525.1,589.7 L528.2,584.6 L531.2,587.6 L534.6,586.7 L537.7,585.9 L540.9,581.0 L544.3,582.1 L547.7,581.7 L551.3,582.0 L555.0,580.3 L558.6,578.0 L561.9,578.3 L564.5,577.0 L567.0,572.0 L569.1,571.0 L571.2,571.7 L573.3,564.7 L575.9,566.2 L579.0,561.4 L582.4,562.1 L585.9,558.6 L589.3,562.0 L592.7,560.4 L596.0,557.0 L599.3,555.8 L602.4,554.2 L605.5,553.5 L608.7,552.0 L611.7,550.5 L614.7,544.9 L617.6,546.7 L620.6,545.9 L623.5,540.9 L626.9,539.3 L630.1,540.0 L633.3,541.2 L636.8,539.0 L640.0,538.3 L643.4,536.8 L646.7,539.0 L650.0,535.1 L653.4,537.3 L656.7,533.9 L659.9,529.9 L662.1,527.7 L663.6,528.3 L665.5,524.8 L668.2,523.3 L671.8,518.1 L675.5,519.8 L678.7,524.1 L682.0,521.9 L685.2,524.3 L688.4,524.4 L691.5,527.6 L694.6,528.4 L697.8,532.5 L700.6,534.0 L703.4,534.8 L705.8,537.2 L708.1,537.1 L710.8,542.7 L713.9,543.5 L717.0,542.2 L720.4,543.0 L723.9,544.2 L727.4,545.9 L730.9,547.5 L734.1,549.3 L737.2,551.7 L740.5,548.1 L744.1,547.6 L746.9,547.1 L750.0,545.4 L753.3,548.6 L755.5,551.8 L757.8,552.9 L760.4,555.8 L763.6,555.3 L765.7,549.3 L767.9,547.9 L770.3,545.8 L773.7,543.7 L776.9,545.8 L780.4,546.5 L783.4,550.5 L786.8,549.9 L790.3,551.5 L793.3,556.0 L796.4,554.9 L799.6,558.4 L803.0,556.5 L805.1,553.5 L807.0,551.9 L809.9,546.9 L813.1,550.2 L816.4,547.4 L820.1,545.6 L823.3,548.4 L826.7,545.9 L830.0,548.4 L833.5,548.6 L837.2,548.8 L840.4,548.4 L843.7,544.5 L847.0,544.3 L850.6,548.0 L853.9,547.0 L857.4,549.1 L860.9,546.6 L864.3,545.6 L867.8,546.2 L870.9,547.6 L874.1,550.0 L877.2,555.2 L879.9,556.3 L882.4,560.4 L884.6,563.2 L886.5,564.1 L888.3,565.3 L889.8,568.8 L891.1,574.0 L892.3,574.9 L893.5,580.4 L894.5,583.4 L895.6,584.1 L896.6,587.6 L897.6,595.8 L898.7,596.8 L899.7,600.2 L900.7,603.4 L901.7,608.8 L902.7,611.3 L903.7,614.8 L904.7,617.7 L905.7,618.9 L906.7,622.8 L907.6,626.4 L908.6,628.6 L909.6,635.3 L910.5,640.1 L911.4,644.0 L912.3,642.7 L913.0,646.6 L913.6,652.1 L914.3,652.5 L915.0,657.0 L915.9,661.5 L917.1,666.5 L918.8,665.9 L920.6,668.6 L922.5,672.2 L924.9,674.7 L927.5,676.7 L929.8,681.4 L931.8,681.9 L933.9,684.1 L935.8,691.3 L938.1,691.8 L940.8,694.1 L943.7,695.4 L946.6,700.7 L949.7,702.9 L952.6,699.2 L956.0,703.7 L959.1,705.1 L961.8,706.4 L964.6,707.8 L967.2,710.3 L969.1,714.8 L971.2,714.1 L973.8,721.3 L976.1,719.4 L978.6,722.0 L981.5,725.2 L984.9,724.1 L988.0,728.2 L991.6,725.4 L994.4,726.8 L997.2,728.9 L1000.0,734.3 L1002.3,733.9 L1004.4,738.2 L1006.7,742.6 L1009.1,741.8 L1012.0,745.7 L1015.4,742.9 L1018.2,740.1 L1021.1,738.4 L1023.9,735.8 L1026.9,735.3 L1029.9,735.8 L1031.9,737.0 L1033.8,744.3 L1035.7,744.4 L1037.8,746.5 L1040.9,747.5 L1043.5,747.2 L1045.7,745.7 L1048.0,741.7 L1051.0,739.4 L1054.6,741.3 L1057.9,739.5 L1060.9,741.3 L1064.0,741.5 L1067.6,743.0 L1071.1,744.0 L1074.7,743.2 L1077.9,741.2 L1081.6,741.6 L1085.1,740.0 L1088.7,744.0 L1091.7,744.0 L1095.1,746.8 L1098.5,748.1 L1101.9,746.0 L1105.0,744.0 L1108.0,744.8 L1110.6,740.2 L1113.2,737.4 L1116.2,736.2 L1119.5,733.3 L1123.0,736.4 L1126.5,736.4 L1130.0,734.2 L1133.0,739.6 L1135.7,740.8 L1138.1,743.3 L1140.5,741.8 L1142.9,748.0 L1145.6,747.5 L1148.4,748.6 L1151.7,752.5 L1154.8,750.9 L1157.3,749.3 L1160.0,744.4 L1163.0,742.2 L1165.8,744.0 L1168.7,737.6 L1171.6,740.0 L1174.0,736.0" fill="none" stroke="#000" stroke-width="4.0" stroke-linejoin="round"/>
<rect x="1151.3" y="752.7" width="2.6" height="2.6" fill="#000" opacity="0.8"/>
<rect x="1067.5" y="739.1" width="2.6" height="2.6" fill="#000" opacity="0.8"/>
<rect x="1162.7" y="745.7" width="2.6" height="2.6" fill="#000" opacity="0.8"/>
<rect x="898.1" y="590.0" width="2.6" height="2.6" fill="#000" opacity="0.8"/>
<rect x="644.9" y="539.7" width="2.6" height="2.6" fill="#000" opacity="0.8"/>
<rect x="503.1" y="598.8" width="2.6" height="2.6" fill="#000" opacity="0.8"/>
<rect x="857.9" y="542.9" width="2.6" height="2.6" fill="#000" opacity="0.8"/>
<rect x="586.5" y="555.0" width="2.6" height="2.6" fill="#000" opacity="0.8"/>
<rect x="517.3" y="585.2" width="2.6" height="2.6" fill="#000" opacity="0.8"/>
<rect x="1106.8" y="744.1" width="2.6" height="2.6" fill="#000" opacity="0.8"/>
<rect x="928.0" y="676.4" width="2.6" height="2.6" fill="#000" opacity="0.8"/>
<rect x="693.6" y="531.8" width="2.6" height="2.6" fill="#000" opacity="0.8"/>
<rect x="1029.3" y="740.1" width="2.6" height="2.6" fill="#000" opacity="0.8"/>
<rect x="585.6" y="563.8" width="2.6" height="2.6" fill="#000" opacity="0.8"/>
<rect x="956.5" y="697.6" width="2.6" height="2.6" fill="#000" opacity="0.8"/>
<rect x="1034.0" y="749.1" width="2.6" height="2.6" fill="#000" opacity="0.8"/>
<rect x="803.5" y="550.6" width="2.6" height="2.6" fill="#000" opacity="0.8"/>
<rect x="1094.4" y="740.4" width="2.6" height="2.6" fill="#000" opacity="0.8"/>
<rect x="565.5" y="575.8" width="2.6" height="2.6" fill="#000" opacity="0.8"/>
<rect x="799.1" y="558.0" width="2.6" height="2.6" fill="#000" opacity="0.8"/>
<rect x="1033.3" y="745.2" width="2.6" height="2.6" fill="#000" opacity="0.8"/>
<rect x="1126.1" y="732.1" width="2.6" height="2.6" fill="#000" opacity="0.8"/>
<rect x="1053.6" y="741.1" width="2.6" height="2.6" fill="#000" opacity="0.8"/>
<rect x="635.9" y="534.6" width="2.6" height="2.6" fill="#000" opacity="0.8"/>
<rect x="713.2" y="538.6" width="2.6" height="2.6" fill="#000" opacity="0.8"/>
<rect x="867.1" y="551.2" width="2.6" height="2.6" fill="#000" opacity="0.8"/>
<rect x="1039.7" y="751.1" width="2.6" height="2.6" fill="#000" opacity="0.8"/>
<rect x="703.1" y="539.4" width="2.6" height="2.6" fill="#000" opacity="0.8"/>
<rect x="1002.2" y="738.4" width="2.6" height="2.6" fill="#000" opacity="0.8"/>
<rect x="1055.6" y="736.6" width="2.6" height="2.6" fill="#000" opacity="0.8"/>
<rect x="1158.5" y="747.7" width="2.6" height="2.6" fill="#000" opacity="0.8"/>
<rect x="640.6" y="533.8" width="2.6" height="2.6" fill="#000" opacity="0.8"/>
<rect x="897.5" y="595.5" width="2.6" height="2.6" fill="#000" opacity="0.8"/>
<rect x="588.1" y="555.7" width="2.6" height="2.6" fill="#000" opacity="0.8"/>
<rect x="670.2" y="522.6" width="2.6" height="2.6" fill="#000" opacity="0.8"/>
<rect x="584.1" y="564.1" width="2.6" height="2.6" fill="#000" opacity="0.8"/>
<rect x="631.2" y="541.9" width="2.6" height="2.6" fill="#000" opacity="0.8"/>
<rect x="751.1" y="543.7" width="2.6" height="2.6" fill="#000" opacity="0.8"/>
<rect x="900.2" y="601.1" width="2.6" height="2.6" fill="#000" opacity="0.8"/>
<rect x="1066.6" y="744.9" width="2.6" height="2.6" fill="#000" opacity="0.8"/>
<rect x="906.2" y="622.3" width="2.6" height="2.6" fill="#000" opacity="0.8"/>
<rect x="921.5" y="677.8" width="2.6" height="2.6" fill="#000" opacity="0.8"/>
<rect x="1004.1" y="742.2" width="2.6" height="2.6" fill="#000" opacity="0.8"/>
<rect x="554.7" y="576.6" width="2.6" height="2.6" fill="#000" opacity="0.8"/>
<rect x="853.5" y="548.7" width="2.6" height="2.6" fill="#000" opacity="0.8"/>
<rect x="1000.8" y="730.4" width="2.6" height="2.6" fill="#000" opacity="0.8"/>
<rect x="1070.6" y="745.3" width="2.6" height="2.6" fill="#000" opacity="0.8"/>
<rect x="1008.7" y="743.6" width="2.6" height="2.6" fill="#000" opacity="0.8"/>
<rect x="608.5" y="553.9" width="2.6" height="2.6" fill="#000" opacity="0.8"/>
<rect x="714.3" y="540.8" width="2.6" height="2.6" fill="#000" opacity="0.8"/>
<rect x="1150.0" y="754.5" width="2.6" height="2.6" fill="#000" opacity="0.8"/>
<rect x="682.6" y="526.3" width="2.6" height="2.6" fill="#000" opacity="0.8"/>
<rect x="760.6" y="550.9" width="2.6" height="2.6" fill="#000" opacity="0.8"/>
<rect x="691.1" y="530.7" width="2.6" height="2.6" fill="#000" opacity="0.8"/>
<rect x="858.0" y="541.7" width="2.6" height="2.6" fill="#000" opacity="0.8"/>
<rect x="900.2" y="611.9" width="2.6" height="2.6" fill="#000" opacity="0.8"/>
<rect x="977.1" y="723.8" width="2.6" height="2.6" fill="#000" opacity="0.8"/>
<rect x="549.3" y="583.9" width="2.6" height="2.6" fill="#000" opacity="0.8"/>
<rect x="539.3" y="576.7" width="2.6" height="2.6" fill="#000" opacity="0.8"/>
<rect x="634.5" y="534.7" width="2.6" height="2.6" fill="#000" opacity="0.8"/>
<path d="M480.0,735.0 L483.6,735.2 L487.2,733.6 L490.5,732.0 L493.7,730.1 L496.8,730.1 L500.0,729.6 L503.5,731.2 L507.1,730.8 L510.2,732.3 L512.8,735.6 L515.5,737.5 L518.6,736.6 L522.3,738.0 L525.8,733.3 L528.6,734.7 L531.2,732.4 L534.3,729.2 L537.5,730.2 L541.1,732.1 L544.4,729.5 L547.9,730.3 L551.7,728.2 L555.2,728.3 L558.7,730.7 L561.2,723.9 L561.6,721.1 L561.6,720.3 L562.6,715.6 L564.9,711.0 L567.4,712.1 L570.5,708.7 L573.8,708.7 L577.0,707.5 L580.7,708.4 L584.0,709.5 L587.1,710.5 L589.8,711.5 L591.9,714.9 L593.2,722.1 L595.0,723.4 L598.0,721.9 L601.2,724.6 L604.4,719.4 L607.2,716.5 L609.9,716.6 L612.3,712.9 L614.8,712.0 L617.5,710.0 L620.4,705.9 L623.0,705.4 L625.5,700.9 L628.3,701.5 L631.6,702.4 L634.2,702.0 L636.3,706.3 L638.6,707.2 L641.6,710.0 L643.1,709.4 L644.0,704.0 L644.9,701.8 L646.5,699.1 L649.9,695.3 L653.1,701.3 L656.2,701.6 L659.0,699.7 L661.6,705.9 L664.5,705.4 L667.9,703.4 L670.7,706.0 L673.5,701.9 L676.4,701.1 L679.4,695.5 L682.1,696.9 L685.0,693.9 L686.7,697.9 L688.1,702.1 L689.5,703.4 L691.5,709.1 L695.0,707.3 L698.1,706.4 L701.2,706.9 L704.6,704.2 L708.1,706.1 L711.3,703.7 L714.2,703.4 L717.1,700.0 L720.0,700.1 L723.2,698.7 L726.5,695.4 L729.0,700.6 L731.1,700.9 L733.4,706.0 L735.5,708.3 L737.2,712.0 L738.9,711.3 L740.7,715.6 L742.9,720.2 L746.2,722.4 L749.1,719.6 L751.8,713.6 L754.5,714.1 L757.2,709.3 L760.4,710.9 L763.2,714.4 L765.0,713.4 L766.9,720.9 L768.8,722.4 L771.3,722.5 L774.6,722.9 L778.2,724.0 L781.8,725.7 L785.3,724.7 L788.1,724.0 L790.3,725.9 L792.5,729.2 L794.6,735.8 L796.6,735.0 L799.1,739.0 L802.4,736.5 L804.6,735.7 L806.8,731.4 L809.8,729.8 L812.5,736.2 L814.6,737.1 L816.8,740.7 L819.2,743.6 L822.3,746.0 L825.9,741.8 L829.1,744.1 L832.7,743.8 L836.0,746.7 L839.0,750.4 L841.7,751.8 L844.6,749.2 L848.1,749.6 L850.4,750.6 L852.9,747.6 L856.2,746.0 L859.2,748.3 L861.7,748.7 L864.4,754.8 L867.0,754.7 L869.5,759.5 L872.5,760.0 L875.9,757.6 L879.2,758.1 L882.7,757.4 L885.4,762.8 L887.9,763.8 L890.2,763.6 L892.4,767.1 L894.7,770.7 L897.2,773.5 L900.5,774.6 L903.2,771.2 L905.3,768.0 L907.5,763.5 L910.8,765.5 L914.1,765.3 L917.2,765.5 L919.9,770.0 L922.5,775.0 L925.0,771.9 L927.7,775.1 L929.9,780.5 L932.1,781.1 L934.2,783.5 L936.6,786.8 L939.8,786.4 L943.1,786.5 L945.7,784.4 L948.9,785.2 L952.1,784.7 L955.5,778.8 L958.7,781.0 L961.9,781.8 L965.6,782.2 L969.0,782.1 L972.3,782.7 L975.0,784.6 L977.7,785.3 L980.2,786.9 L982.9,791.5 L986.1,792.2 L988.7,790.0 L990.6,785.7 L993.5,781.6 L996.6,784.8 L999.3,786.6 L1001.8,787.5 L1004.4,790.5 L1007.1,791.0 L1010.2,794.0 L1013.4,794.0 L1016.9,791.9 L1020.4,792.5 L1023.5,791.4 L1026.5,794.0 L1030.1,790.5 L1033.7,789.7 L1037.3,789.3 L1041.0,789.8 L1044.6,791.0 L1048.1,790.3 L1051.5,789.6 L1055.1,793.6 L1058.4,790.1 L1061.7,788.9 L1065.1,788.9 L1068.5,787.4 L1071.9,787.2 L1075.3,787.4 L1078.9,789.6 L1082.5,790.6 L1086.0,793.5 L1089.5,793.1 L1093.1,795.5 L1096.7,792.6 L1100.2,796.1 L1103.8,794.6 L1107.3,792.2 L1110.8,793.2 L1114.3,795.9 L1117.8,798.6 L1121.3,795.5 L1124.8,797.8 L1128.3,795.5 L1131.8,797.0 L1135.3,791.6 L1138.8,792.9 L1142.3,794.5 L1145.8,791.2 L1149.4,791.8 L1152.6,791.6 L1155.7,793.5 L1158.8,795.3 L1162.0,798.7 L1165.2,796.8 L1168.5,797.6 L1171.6,795.6 L1174.0,796.3" fill="none" stroke="#a4a4a4" stroke-width="5.0" stroke-linejoin="round"/>
<rect x="993.0" y="778.6" width="2.6" height="2.6" fill="#a4a4a4" opacity="0.8"/>
<rect x="1125.3" y="790.9" width="2.6" height="2.6" fill="#a4a4a4" opacity="0.8"/>
<rect x="556.8" y="730.7" width="2.6" height="2.6" fill="#a4a4a4" opacity="0.8"/>
<rect x="481.6" y="729.7" width="2.6" height="2.6" fill="#a4a4a4" opacity="0.8"/>
<rect x="505.7" y="731.9" width="2.6" height="2.6" fill="#a4a4a4" opacity="0.8"/>
<rect x="506.4" y="731.0" width="2.6" height="2.6" fill="#a4a4a4" opacity="0.8"/>
<rect x="762.1" y="717.8" width="2.6" height="2.6" fill="#a4a4a4" opacity="0.8"/>
<rect x="560.8" y="723.2" width="2.6" height="2.6" fill="#a4a4a4" opacity="0.8"/>
<rect x="989.2" y="787.4" width="2.6" height="2.6" fill="#a4a4a4" opacity="0.8"/>
<rect x="506.4" y="729.7" width="2.6" height="2.6" fill="#a4a4a4" opacity="0.8"/>
<rect x="1003.5" y="790.9" width="2.6" height="2.6" fill="#a4a4a4" opacity="0.8"/>
<rect x="496.6" y="725.2" width="2.6" height="2.6" fill="#a4a4a4" opacity="0.8"/>
<rect x="560.1" y="719.3" width="2.6" height="2.6" fill="#a4a4a4" opacity="0.8"/>
<rect x="934.7" y="780.6" width="2.6" height="2.6" fill="#a4a4a4" opacity="0.8"/>
<rect x="993.5" y="777.3" width="2.6" height="2.6" fill="#a4a4a4" opacity="0.8"/>
<rect x="697.9" y="710.3" width="2.6" height="2.6" fill="#a4a4a4" opacity="0.8"/>
<rect x="785.1" y="726.2" width="2.6" height="2.6" fill="#a4a4a4" opacity="0.8"/>
<rect x="488.2" y="728.9" width="2.6" height="2.6" fill="#a4a4a4" opacity="0.8"/>
<rect x="673.5" y="694.7" width="2.6" height="2.6" fill="#a4a4a4" opacity="0.8"/>
<rect x="1011.2" y="789.6" width="2.6" height="2.6" fill="#a4a4a4" opacity="0.8"/>
<rect x="651.8" y="694.2" width="2.6" height="2.6" fill="#a4a4a4" opacity="0.8"/>
<rect x="995.5" y="778.2" width="2.6" height="2.6" fill="#a4a4a4" opacity="0.8"/>
<rect x="1132.6" y="790.0" width="2.6" height="2.6" fill="#a4a4a4" opacity="0.8"/>
<rect x="774.9" y="719.9" width="2.6" height="2.6" fill="#a4a4a4" opacity="0.8"/>
<rect x="899.7" y="775.9" width="2.6" height="2.6" fill="#a4a4a4" opacity="0.8"/>
<rect x="805.0" y="735.1" width="2.6" height="2.6" fill="#a4a4a4" opacity="0.8"/>
<rect x="504.3" y="724.6" width="2.6" height="2.6" fill="#a4a4a4" opacity="0.8"/>
<rect x="1036.1" y="791.8" width="2.6" height="2.6" fill="#a4a4a4" opacity="0.8"/>
<rect x="957.7" y="783.7" width="2.6" height="2.6" fill="#a4a4a4" opacity="0.8"/>
<rect x="1017.2" y="789.9" width="2.6" height="2.6" fill="#a4a4a4" opacity="0.8"/>
<rect x="701.6" y="701.1" width="2.6" height="2.6" fill="#a4a4a4" opacity="0.8"/>
<rect x="649.7" y="700.5" width="2.6" height="2.6" fill="#a4a4a4" opacity="0.8"/>
<rect x="735.2" y="708.1" width="2.6" height="2.6" fill="#a4a4a4" opacity="0.8"/>
<rect x="965.9" y="783.2" width="2.6" height="2.6" fill="#a4a4a4" opacity="0.8"/>
<rect x="1162.2" y="792.8" width="2.6" height="2.6" fill="#a4a4a4" opacity="0.8"/>
<rect x="719.7" y="692.0" width="2.6" height="2.6" fill="#a4a4a4" opacity="0.8"/>
<rect x="687.4" y="708.6" width="2.6" height="2.6" fill="#a4a4a4" opacity="0.8"/>
<rect x="531.3" y="726.4" width="2.6" height="2.6" fill="#a4a4a4" opacity="0.8"/>
<rect x="1128.6" y="797.0" width="2.6" height="2.6" fill="#a4a4a4" opacity="0.8"/>
<rect x="604.0" y="724.0" width="2.6" height="2.6" fill="#a4a4a4" opacity="0.8"/>
<rect x="578.5" y="704.3" width="2.6" height="2.6" fill="#a4a4a4" opacity="0.8"/>
<rect x="734.6" y="711.8" width="2.6" height="2.6" fill="#a4a4a4" opacity="0.8"/>
<rect x="626.0" y="703.2" width="2.6" height="2.6" fill="#a4a4a4" opacity="0.8"/>
<rect x="765.2" y="720.0" width="2.6" height="2.6" fill="#a4a4a4" opacity="0.8"/>
<rect x="511.4" y="727.1" width="2.6" height="2.6" fill="#a4a4a4" opacity="0.8"/>
<rect x="1078.6" y="786.7" width="2.6" height="2.6" fill="#a4a4a4" opacity="0.8"/>
<rect x="677.9" y="692.6" width="2.6" height="2.6" fill="#a4a4a4" opacity="0.8"/>
<rect x="528.2" y="736.0" width="2.6" height="2.6" fill="#a4a4a4" opacity="0.8"/>
<rect x="576.3" y="711.2" width="2.6" height="2.6" fill="#a4a4a4" opacity="0.8"/>
<rect x="924.2" y="770.8" width="2.6" height="2.6" fill="#a4a4a4" opacity="0.8"/>
<rect x="933.9" y="782.0" width="2.6" height="2.6" fill="#a4a4a4" opacity="0.8"/>
<rect x="901.1" y="769.7" width="2.6" height="2.6" fill="#a4a4a4" opacity="0.8"/>
<rect x="663.6" y="700.3" width="2.6" height="2.6" fill="#a4a4a4" opacity="0.8"/>
<rect x="712.5" y="697.9" width="2.6" height="2.6" fill="#a4a4a4" opacity="0.8"/>
<rect x="549.0" y="724.7" width="2.6" height="2.6" fill="#a4a4a4" opacity="0.8"/>
<rect x="820.8" y="744.7" width="2.6" height="2.6" fill="#a4a4a4" opacity="0.8"/>
<rect x="755.2" y="714.7" width="2.6" height="2.6" fill="#a4a4a4" opacity="0.8"/>
<rect x="941.4" y="789.2" width="2.6" height="2.6" fill="#a4a4a4" opacity="0.8"/>
<rect x="1140.3" y="794.6" width="2.6" height="2.6" fill="#a4a4a4" opacity="0.8"/>
<rect x="934.3" y="781.7" width="2.6" height="2.6" fill="#a4a4a4" opacity="0.8"/>
<rect x="803.7" y="730.7" width="2.6" height="2.6" fill="#a4a4a4" opacity="0.8"/>
<rect x="1022.1" y="794.3" width="2.6" height="2.6" fill="#a4a4a4" opacity="0.8"/>
<rect x="1122.5" y="790.9" width="2.6" height="2.6" fill="#a4a4a4" opacity="0.8"/>
<rect x="1052.3" y="785.9" width="2.6" height="2.6" fill="#a4a4a4" opacity="0.8"/>
<rect x="526.7" y="736.5" width="2.6" height="2.6" fill="#a4a4a4" opacity="0.8"/>
<rect x="854.5" y="748.4" width="2.6" height="2.6" fill="#a4a4a4" opacity="0.8"/>
<rect x="970.5" y="785.2" width="2.6" height="2.6" fill="#a4a4a4" opacity="0.8"/>
<rect x="985.5" y="791.6" width="2.6" height="2.6" fill="#a4a4a4" opacity="0.8"/>
<rect x="1018.9" y="795.7" width="2.6" height="2.6" fill="#a4a4a4" opacity="0.8"/>
<rect x="541.6" y="732.0" width="2.6" height="2.6" fill="#a4a4a4" opacity="0.8"/>
<rect x="1068.6" y="783.4" width="2.6" height="2.6" fill="#a4a4a4" opacity="0.8"/>
<rect x="938.3" y="789.4" width="2.6" height="2.6" fill="#a4a4a4" opacity="0.8"/>
<rect x="882.8" y="761.1" width="2.6" height="2.6" fill="#a4a4a4" opacity="0.8"/>
<rect x="884.8" y="757.0" width="2.6" height="2.6" fill="#a4a4a4" opacity="0.8"/>
<rect x="1151.9" y="789.5" width="2.6" height="2.6" fill="#a4a4a4" opacity="0.8"/>
<rect x="786.9" y="723.1" width="2.6" height="2.6" fill="#a4a4a4" opacity="0.8"/>
<rect x="1051.7" y="787.6" width="2.6" height="2.6" fill="#a4a4a4" opacity="0.8"/>
<rect x="786.3" y="726.1" width="2.6" height="2.6" fill="#a4a4a4" opacity="0.8"/>
<rect x="614.3" y="713.5" width="2.6" height="2.6" fill="#a4a4a4" opacity="0.8"/>
<rect x="780.7" y="726.0" width="2.6" height="2.6" fill="#a4a4a4" opacity="0.8"/>
<rect x="559.4" y="722.5" width="2.6" height="2.6" fill="#a4a4a4" opacity="0.8"/>
<rect x="1084.2" y="795.1" width="2.6" height="2.6" fill="#a4a4a4" opacity="0.8"/>
<rect x="632.2" y="698.8" width="2.6" height="2.6" fill="#a4a4a4" opacity="0.8"/>
<rect x="592.8" y="717.7" width="2.6" height="2.6" fill="#a4a4a4" opacity="0.8"/>
<rect x="921.4" y="774.7" width="2.6" height="2.6" fill="#a4a4a4" opacity="0.8"/>
<rect x="948.7" y="783.5" width="2.6" height="2.6" fill="#a4a4a4" opacity="0.8"/>
<rect x="633.8" y="709.3" width="2.6" height="2.6" fill="#a4a4a4" opacity="0.8"/>
<rect x="692.3" y="710.3" width="2.6" height="2.6" fill="#a4a4a4" opacity="0.8"/>
<rect x="679.4" y="55.6" width="6" height="12" rx="1.5" fill="#e0101a"/>
<rect x="791.2" y="191.5" width="7" height="12" rx="1.5" fill="#e0101a"/>
<rect x="839.5" y="202.5" width="7" height="11" rx="1.5" fill="#e0101a"/>
<rect x="899.0" y="428.5" width="6" height="15" rx="1.5" fill="#e0101a"/>
<rect x="926.0" y="605.0" width="7" height="15" rx="1.5" fill="#e0101a"/>
<rect x="966.5" y="716.5" width="11" height="13" rx="1.5" fill="#e0101a"/>
<path d="M427.2,16.5 L427.1,17.0 L427.1,17.7 L427.0,18.3 L426.9,19.1 L426.8,19.9 L426.8,20.7 L426.7,21.6 L426.6,22.5 L426.5,23.5 L426.3,24.5 L426.2,25.6 L426.1,26.7 L426.0,27.8 L425.9,28.9 L425.8,30.1 L425.6,31.2 L425.5,32.4 L425.4,33.6 L425.3,34.8 L425.1,36.0 L425.0,37.2 L424.9,38.4 L424.7,39.6 L424.6,40.8 L424.5,41.9 L424.3,43.1 L424.2,44.2 L424.1,45.3 L424.0,46.4 L423.9,47.4 L423.7,48.4 L423.6,49.3 L423.5,50.2 L423.4,51.1 L423.2,52.4 L423.1,53.6 L422.9,54.7 L422.8,55.8 L422.6,56.9 L422.5,58.0 L422.4,59.0 L422.2,60.0 L422.1,60.9 L421.9,61.9 L421.8,62.8 L421.7,63.7 L421.5,64.6 L421.4,65.5 L421.2,66.4 L421.1,67.4 L420.9,68.3 L420.7,69.2 L420.6,70.2 L420.4,71.2 L420.2,72.2 L420.0,73.3 L419.8,74.3 L419.6,75.2 L419.4,76.2 L419.2,77.2 L419.0,78.2 L418.8,79.2 L418.6,80.2 L418.3,81.3 L418.1,82.3 L417.9,83.3 L417.6,84.4 L417.4,85.4 L417.2,86.5 L416.9,87.5 L416.7,88.6 L416.5,89.6 L416.2,90.6 L416.0,91.7 L415.8,92.7 L415.6,93.7 L415.4,94.7 L415.2,95.7 L415.0,96.7 L414.8,97.6 L414.6,98.6 L414.4,99.7 L414.2,100.7 L414.0,101.8 L413.9,102.8 L413.7,103.9 L413.5,104.9 L413.4,105.9 L413.2,106.9 L413.1,107.9 L412.9,108.9 L412.8,109.9 L412.7,110.9 L412.5,111.9 L412.4,112.9 L412.3,113.9 L412.1,114.8 L412.0,115.8 L411.9,116.8 L411.7,117.8 L411.6,118.8 L411.4,119.8 L411.3,120.8 L411.2,121.8 L411.0,122.8 L410.9,123.9 L410.7,124.9 L410.6,126.0 L410.4,127.0 L410.3,128.1 L410.2,129.1 L410.0,130.2 L409.9,131.2 L409.7,132.2 L409.6,133.3 L409.5,134.3 L409.3,135.3 L409.2,136.3 L409.0,137.3 L408.9,138.3 L408.8,139.3 L408.6,140.2 L408.5,141.1 L408.3,142.0 L408.2,142.9 L408.0,144.1 L407.8,145.2 L407.7,146.2 L407.5,147.2 L407.4,148.2 L407.2,149.1 L407.1,150.1 L406.9,151.0 L406.7,151.9 L406.5,152.8 L406.4,153.7 L406.1,154.7 L405.9,155.6 L405.6,156.6 L405.3,157.6 L405.0,158.7 L404.7,159.6 L404.4,160.5 L404.1,161.4 L403.7,162.3 L403.4,163.3 L403.0,164.3 L402.6,165.2 L402.3,166.2 L401.9,167.2 L401.4,168.2 L401.0,169.2 L400.6,170.2 L400.2,171.2 L399.7,172.1 L399.3,173.1 L398.9,174.1 L398.4,175.0 L398.0,175.9 L397.5,176.8 L397.1,177.7 L396.6,178.7 L396.1,179.6 L395.6,180.5 L395.0,181.4 L394.5,182.2 L393.9,183.1 L393.4,183.9 L392.8,184.8 L392.2,185.6 L391.7,186.4 L391.1,187.3 L390.6,188.1 L390.1,189.0 L389.5,189.8 L389.0,190.7 L388.5,191.6 L388.1,192.5 L387.6,193.5 L387.2,194.4 L386.9,195.3 L386.5,196.2 L386.2,197.1 L385.9,198.0 L385.7,199.0 L385.4,199.9 L385.2,200.9 L384.9,201.8 L384.7,202.8 L384.4,203.8 L384.1,204.7 L383.9,205.7 L383.6,206.7 L383.3,207.7 L382.9,208.6 L382.6,209.6 L382.2,210.6 L381.8,211.5 L381.3,212.5 L380.9,213.4 L380.4,214.2 L379.9,215.1 L379.4,215.9 L378.9,216.8 L378.4,217.6 L377.8,218.4 L377.3,219.3 L376.7,220.1 L376.1,221.0 L375.5,221.8 L374.9,222.6 L374.3,223.5 L373.7,224.4 L373.1,225.2 L372.5,226.1 L371.8,227.0 L371.2,227.9 L370.5,228.7 L369.9,229.7 L369.2,230.6 L368.6,231.5 L368.1,232.3 L367.6,233.1 L367.0,233.8 L366.5,234.6 L366.0,235.5 L365.5,236.3 L365.0,237.1 L364.4,237.9 L363.9,238.8 L363.4,239.6 L362.9,240.5 L362.3,241.3 L361.8,242.2 L361.2,243.0 L360.6,243.9 L360.1,244.7 L359.5,245.6 L358.9,246.4 L358.3,247.3 L357.6,248.1 L357.0,248.9 L356.4,249.7 L355.7,250.6 L355.0,251.4 L354.3,252.1 L353.6,252.9 L352.8,253.7 L352.1,254.4 L351.4,255.0 L350.7,255.7 L349.9,256.4 L349.2,257.0 L348.4,257.7 L347.5,258.4 L346.7,259.0 L345.9,259.7 L345.0,260.3 L344.1,261.0 L343.3,261.7 L342.4,262.3 L341.5,262.9 L340.6,263.6 L339.7,264.2 L338.8,264.8 L337.9,265.5 L337.0,266.1 L336.2,266.7 L335.3,267.3 L334.4,267.9 L333.6,268.4 L332.8,269.0 L331.9,269.6 L331.2,270.1 L330.4,270.7 L329.6,271.2 L328.9,271.7 L328.2,272.2 L327.5,272.7 L326.5,273.5 L325.5,274.1 L324.5,274.8 L323.7,275.4 L322.8,275.9 L322.0,276.4 L321.3,276.9 L320.5,277.4 L319.8,277.8 L319.1,278.3 L318.3,278.7 L317.6,279.2 L316.9,279.7 L316.1,280.3 L315.3,280.8 L314.4,281.5 L313.5,282.1 L312.6,282.9 L311.6,283.7 L311.0,284.2 L310.3,284.8 L309.6,285.4 L309.0,286.0 L308.3,286.6 L307.6,287.3 L306.9,287.9 L306.1,288.6 L305.4,289.3 L304.7,290.0 L303.9,290.7 L303.2,291.4 L302.4,292.1 L301.6,292.9 L300.9,293.6 L300.1,294.4 L299.3,295.1 L298.5,295.9 L297.7,296.6 L296.9,297.4 L296.2,298.2 L295.4,298.9 L294.6,299.6 L293.8,300.4 L293.0,301.1 L292.2,301.8 L291.4,302.6 L290.6,303.3 L289.8,304.0 L289.0,304.6 L288.2,305.3 L287.4,306.0 L286.6,306.6 L285.8,307.2 L285.0,307.9 L284.2,308.5 L283.4,309.1 L282.6,309.8 L281.8,310.4 L281.0,311.0 L280.2,311.6 L279.4,312.2 L278.5,312.8 L277.7,313.5 L276.9,314.1 L276.1,314.7 L275.3,315.3 L274.4,315.9 L273.6,316.5 L272.8,317.1 L272.0,317.7 L271.1,318.3 L270.3,318.9 L269.5,319.5 L268.7,320.1 L267.8,320.7 L267.0,321.3 L266.2,321.9 L265.4,322.5 L264.5,323.1 L263.7,323.7 L262.9,324.3 L262.1,324.9 L261.3,325.5 L260.4,326.2 L259.6,326.8 L258.8,327.4 L257.9,328.0 L257.1,328.7 L256.2,329.3 L255.4,329.9 L254.5,330.5 L253.7,331.2 L252.8,331.8 L252.0,332.4 L251.1,333.1 L250.3,333.7 L249.4,334.3 L248.6,334.9 L247.8,335.6 L246.9,336.2 L246.1,336.8 L245.3,337.4 L244.5,338.0 L243.7,338.6 L242.9,339.2 L242.1,339.8 L241.3,340.4 L240.6,341.0 L239.8,341.6 L239.1,342.2 L238.3,342.7 L237.6,343.3 L236.7,344.0 L235.8,344.7 L234.9,345.4 L234.0,346.1 L233.2,346.8 L232.3,347.5 L231.5,348.1 L230.7,348.8 L229.9,349.5 L229.1,350.1 L228.3,350.8 L227.5,351.4 L226.7,352.0 L226.0,352.7 L225.2,353.3 L224.5,353.9 L223.7,354.6 L223.0,355.2 L222.2,355.9 L221.5,356.5 L220.8,357.1 L220.1,357.8 L219.3,358.4 L218.6,359.1 L217.8,359.8 L217.0,360.5 L216.3,361.3 L215.5,362.0 L214.8,362.7 L214.0,363.4 L213.3,364.2 L212.6,364.9 L211.8,365.6 L211.1,366.3 L210.4,367.1 L209.7,367.8 L209.0,368.5 L208.3,369.2 L207.6,369.9 L206.9,370.7 L206.2,371.4 L205.5,372.1 L204.9,372.8 L204.2,373.6 L203.5,374.3 L202.8,375.0 L202.1,375.8 L201.3,376.5 L200.6,377.3 L199.9,378.1 L199.1,378.8 L198.4,379.6 L197.6,380.4 L196.9,381.2 L196.1,381.9 L195.4,382.7 L194.7,383.5 L194.0,384.3 L193.3,385.0 L192.6,385.8 L192.0,386.5 L191.3,387.3 L190.7,388.0 L190.1,388.7 L189.5,389.4 L189.0,390.1 L188.5,390.8 L187.8,391.8 L187.1,392.7 L186.4,393.7 L185.8,394.5 L185.3,395.4 L184.7,396.3 L184.3,397.1 L183.8,397.9 L183.4,398.8 L183.1,399.7 L182.8,400.5 L182.5,401.5 L182.3,402.4 L182.2,403.4 L182.1,404.3 L182.1,405.2 L182.1,406.2 L182.1,407.1 L182.1,408.1 L182.2,409.1 L182.4,410.1 L182.5,411.1 L182.7,412.1 L183.0,413.1 L183.3,414.2 L183.6,415.2 L184.0,416.2 L184.4,417.2 L184.9,418.2 L185.4,419.2 L185.8,420.0 L186.3,420.7 L186.8,421.5 L187.3,422.2 L187.9,423.0 L188.5,423.7 L189.1,424.5 L189.8,425.2 L190.5,426.0 L191.2,426.7 L191.9,427.5 L192.6,428.2 L193.3,429.0 L194.1,429.7 L194.9,430.5 L195.6,431.2 L196.4,432.0 L197.2,432.7 L198.0,433.5 L198.8,434.2 L199.6,435.0 L200.3,435.7 L201.0,436.3 L201.7,437.0 L202.5,437.6 L203.2,438.3 L204.0,439.0 L204.8,439.6 L205.6,440.3 L206.4,441.0 L207.2,441.6 L208.0,442.3 L208.8,443.0 L209.6,443.6 L210.4,444.3 L211.3,444.9 L212.1,445.6 L212.9,446.3 L213.7,446.9 L214.6,447.6 L215.4,448.3 L216.2,448.9 L217.0,449.6 L217.8,450.2 L218.6,450.9 L219.4,451.6 L220.2,452.2 L221.0,452.9 L221.8,453.5 L222.6,454.2 L223.3,454.9 L224.1,455.5 L224.9,456.2 L225.7,456.8 L226.5,457.5 L227.3,458.1 L228.1,458.8 L228.9,459.5 L229.7,460.1 L230.5,460.8 L231.3,461.4 L232.1,462.1 L232.8,462.8 L233.6,463.4 L234.4,464.1 L235.2,464.7 L236.0,465.4 L236.8,466.0 L237.6,466.7 L238.4,467.4 L239.2,468.0 L240.0,468.7 L240.8,469.3 L241.7,470.0 L242.5,470.6 L243.3,471.3 L244.2,472.0 L245.0,472.6 L245.8,473.3 L246.7,473.9 L247.5,474.6 L248.3,475.3 L249.1,475.9 L249.9,476.6 L250.7,477.2 L251.5,477.9 L252.3,478.5 L253.1,479.2 L253.8,479.9 L254.5,480.5 L255.2,481.2 L255.9,481.8 L256.6,482.5 L257.4,483.3 L258.1,484.1 L258.8,484.9 L259.5,485.7 L260.1,486.5 L260.8,487.3 L261.4,488.1 L262.0,489.0 L262.6,489.8 L263.2,490.6 L263.7,491.4 L264.3,492.2 L264.9,493.0 L265.5,493.8 L266.0,494.6 L266.6,495.4 L267.3,496.1 L267.9,496.9 L268.5,497.7 L269.2,498.4 L269.9,499.1 L270.6,499.8 L271.3,500.5 L272.1,501.2 L272.9,501.9 L273.6,502.5 L274.4,503.2 L275.2,503.8 L276.0,504.4 L276.8,505.1 L277.5,505.7 L278.3,506.4 L279.1,507.0 L279.8,507.7 L280.6,508.3 L281.3,509.0 L282.0,509.7 L282.7,510.5 L283.4,511.2 L284.0,512.0 L284.6,512.8 L285.2,513.7 L285.7,514.5 L286.2,515.4 L286.6,516.4 L287.1,517.3 L287.5,518.3 L287.9,519.2 L288.3,520.2 L288.7,521.2 L289.1,522.2 L289.5,523.1 L290.0,524.1 L290.5,525.0 L290.9,525.9 L291.5,526.8 L292.0,527.7 L292.6,528.5 L293.3,529.3 L294.0,530.0 L294.7,530.6 L295.4,531.2 L296.2,531.8 L297.0,532.4 L297.8,532.9 L298.7,533.5 L299.6,534.0 L300.5,534.5 L301.4,534.9 L302.4,535.4 L303.3,535.8 L304.3,536.3 L305.3,536.7 L306.2,537.1 L307.2,537.6 L308.1,538.0 L309.1,538.4 L310.0,538.8 L310.9,539.2 L311.8,539.6 L312.7,540.1 L313.5,540.5 L314.5,541.0 L315.5,541.5 L316.4,542.1 L317.3,542.6 L318.3,543.1 L319.2,543.5 L320.1,544.0 L321.0,544.5 L321.9,545.0 L322.8,545.5 L323.6,545.9 L324.5,546.4 L325.4,546.8 L326.3,547.3 L327.2,547.7 L328.1,548.1 L329.1,548.6 L330.0,549.0 L330.9,549.4 L331.9,549.8 L332.8,550.2 L333.8,550.6 L334.7,551.0 L335.7,551.4 L336.6,551.7 L337.6,552.1 L338.6,552.5 L339.5,552.8 L340.5,553.2 L341.5,553.5 L342.5,553.9 L343.5,554.2 L344.5,554.6 L345.5,555.0 L346.6,555.3 L347.6,555.7 L348.5,556.0 L349.4,556.3 L350.3,556.7 L351.2,557.0 L352.2,557.3 L353.1,557.6 L354.0,557.9 L354.9,558.2 L355.9,558.5 L356.8,558.8 L357.8,559.1 L358.8,559.5 L359.7,559.8 L360.7,560.1 L361.7,560.4 L362.7,560.8 L363.7,561.1 L364.7,561.4 L365.7,561.8 L366.8,562.1 L367.8,562.5 L368.7,562.8 L369.6,563.1 L370.5,563.4 L371.4,563.7 L372.3,564.0 L373.2,564.3 L374.2,564.7 L375.1,565.0 L376.1,565.3 L377.0,565.6 L378.0,565.9 L379.0,566.3 L379.9,566.6 L380.9,566.9 L381.9,567.3 L382.8,567.6 L383.8,568.0 L384.8,568.3 L385.7,568.7 L386.7,569.1 L387.7,569.4 L388.6,569.8 L389.6,570.2 L390.6,570.6 L391.5,571.0 L392.4,571.4 L393.3,571.8 L394.3,572.2 L395.2,572.6 L396.1,573.1 L397.1,573.5 L398.0,573.9 L399.0,574.4 L399.9,574.8 L400.9,575.3 L401.8,575.8 L402.8,576.2 L403.7,576.7 L404.7,577.2 L405.6,577.6 L406.5,578.1 L407.4,578.6 L408.3,579.1 L409.2,579.5 L410.1,580.0 L411.0,580.5 L411.8,581.0 L412.7,581.4 L413.5,581.9 L414.3,582.3 L415.1,582.8 L416.1,583.4 L417.1,584.0 L418.0,584.5 L419.0,585.1 L419.9,585.6 L420.8,586.2 L421.7,586.7 L422.6,587.3 L423.4,587.8 L424.3,588.4 L425.1,588.9 L425.9,589.5 L426.7,590.1 L427.5,590.7 L428.3,591.3 L429.0,591.9 L429.8,592.6 L430.5,593.2 L431.3,593.9 L432.0,594.6 L432.7,595.3 L433.4,596.1 L434.1,596.8 L434.8,597.5 L435.5,598.3 L436.2,599.1 L436.8,599.9 L437.5,600.7 L438.1,601.5 L438.7,602.3 L439.3,603.2 L439.9,604.0 L440.4,604.9 L441.0,605.8 L441.5,606.7 L442.0,607.6 L442.5,608.6 L443.0,609.5 L443.5,610.5 L443.9,611.5 L444.2,612.3 L444.6,613.2 L444.9,614.1 L445.1,615.0 L445.4,615.9 L445.7,616.8 L445.9,617.8 L446.1,618.7 L446.3,619.7 L446.5,620.6 L446.7,621.6 L446.9,622.6 L447.1,623.6 L447.2,624.6 L447.4,625.6 L447.6,626.7 L447.7,627.7 L447.9,628.7 L448.0,629.8 L448.2,630.8 L448.4,631.8 L448.5,632.9 L448.7,633.9 L448.9,635.0 L449.1,635.9 L449.2,636.9 L449.4,637.8 L449.6,638.8 L449.8,639.8 L449.9,640.8 L450.1,641.8 L450.3,642.7 L450.4,643.7 L450.6,644.7 L450.8,645.7 L451.0,646.8 L451.1,647.8 L451.3,648.8 L451.4,649.8 L451.6,650.8 L451.7,651.8 L451.9,652.9 L452.0,653.9 L452.2,654.9 L452.3,655.9 L452.4,657.0 L452.6,658.0 L452.7,659.0 L452.8,660.0 L452.9,661.0 L453.0,662.0 L453.1,663.0 L453.2,664.0 L453.3,665.0 L453.3,666.0 L453.4,666.9 L453.5,667.9 L453.5,668.9 L453.6,669.9 L453.6,670.9 L453.7,671.8 L453.7,672.8 L453.8,673.8 L453.8,674.8 L453.8,675.8 L453.9,676.8 L453.9,677.7 L453.9,678.7 L453.9,679.7 L453.9,680.7 L454.0,681.7 L454.0,682.8 L454.0,683.8 L454.0,684.8 L454.0,685.8 L454.0,686.9 L454.0,687.9 L454.0,689.0 L454.0,690.0 L454.0,690.9 L454.0,691.9 L454.0,692.9 L453.9,693.9 L453.9,694.8 L453.9,695.8 L453.9,696.8 L453.8,697.8 L453.8,698.8 L453.8,699.8 L453.7,700.8 L453.7,701.8 L453.6,702.9 L453.6,703.9 L453.6,704.9 L453.5,705.9 L453.5,707.0 L453.4,708.0 L453.4,709.0 L453.3,710.1 L453.3,711.1 L453.3,712.2 L453.2,713.2 L453.2,714.3 L453.1,715.3 L453.1,716.4 L453.1,717.5 L453.0,718.5 L453.0,719.6 L453.0,720.6 L452.9,721.6 L452.9,722.5 L452.9,723.5 L452.9,724.5 L452.8,725.5 L452.8,726.5 L452.8,727.5 L452.8,728.5 L452.7,729.5 L452.7,730.5 L452.7,731.5 L452.7,732.6 L452.6,733.6 L452.6,734.6 L452.6,735.6 L452.6,736.6 L452.5,737.7 L452.5,738.7 L452.5,739.7 L452.5,740.8 L452.4,741.8 L452.4,742.8 L452.4,743.9 L452.4,744.9 L452.4,746.0 L452.4,747.0 L452.3,748.1 L452.3,749.2 L452.3,750.2 L452.3,751.3 L452.3,752.3 L452.3,753.4 L452.3,754.4 L452.3,755.4 L452.3,756.4 L452.3,757.4 L452.3,758.4 L452.3,759.4 L452.3,760.5 L452.3,761.5 L452.3,762.5 L452.3,763.6 L452.3,764.6 L452.3,765.7 L452.3,766.7 L452.3,767.8 L452.3,768.8 L452.4,769.9 L452.4,770.9 L452.4,772.0 L452.4,773.1 L452.4,774.1 L452.4,775.1 L452.4,776.2 L452.4,777.2 L452.5,778.3 L452.5,779.3 L452.5,780.3 L452.5,781.3 L452.5,782.3 L452.5,783.3 L452.5,784.3 L452.5,785.3 L452.6,786.3 L452.6,787.2 L452.6,788.2 L452.6,789.1 L452.6,790.0 L452.6,791.1 L452.6,792.3 L452.6,793.5 L452.7,794.6 L452.7,795.8 L452.7,797.0 L452.7,798.2 L452.7,799.3 L452.7,800.5 L452.7,801.7 L452.8,802.9 L452.8,804.0 L452.8,805.1 L452.8,806.2 L452.8,807.3 L452.8,808.4 L452.9,809.4 L452.9,810.5 L452.9,811.4 L452.9,812.4 L452.9,813.3 L452.9,814.2 L452.9,815.0 L453.0,815.8 L453.0,816.5 L453.0,817.2 L453.0,817.9 L453.0,818.5 L453.0,819.0" fill="none" stroke="#111" stroke-width="3.2"/>
<path d="M452.5,735 C451,760 449,785 450,819" fill="none" stroke="#9a9a9a" stroke-width="2"/>
<polygon points="306.5,265.5 327.5,276 306.5,286.5" fill="#0a0af0"/>
<polygon points="161,394.5 182,405 161,415.5" fill="#0a0af0"/>
<polygon points="218,451.0 239,461.5 218,472.0" fill="#0a0af0"/>
<polygon points="275,517.5 296,528 275,538.5" fill="#0a0af0"/>
<polygon points="343.5,550.5 364.5,561 343.5,571.5" fill="#0a0af0"/>
<polygon points="424.5,598.5 445.5,609 424.5,619.5" fill="#0a0af0"/>
<polygon points="437,709.5 458,720 437,730.5" fill="#0a0af0"/>
<rect x="130.0" y="17.0" width="1044.5" height="802.5" fill="none" stroke="#000" stroke-width="4"/>
<line x1="478.3" y1="17.0" x2="478.3" y2="819.5" stroke="#000" stroke-width="7"/>
<line x1="130.0" y1="41.7" x2="138.0" y2="41.7" stroke="#000" stroke-width="3.2"/>
<line x1="478.5" y1="41.7" x2="470.5" y2="41.7" stroke="#000" stroke-width="3.2"/>
<line x1="130.0" y1="66.4" x2="138.0" y2="66.4" stroke="#000" stroke-width="3.2"/>
<line x1="478.5" y1="66.4" x2="470.5" y2="66.4" stroke="#000" stroke-width="3.2"/>
<line x1="130.0" y1="91.1" x2="138.0" y2="91.1" stroke="#000" stroke-width="3.2"/>
<line x1="478.5" y1="91.1" x2="470.5" y2="91.1" stroke="#000" stroke-width="3.2"/>
<line x1="130.0" y1="115.8" x2="138.0" y2="115.8" stroke="#000" stroke-width="3.2"/>
<line x1="478.5" y1="115.8" x2="470.5" y2="115.8" stroke="#000" stroke-width="3.2"/>
<line x1="130.0" y1="140.5" x2="145.0" y2="140.5" stroke="#000" stroke-width="3.2"/>
<line x1="478.5" y1="140.5" x2="463.5" y2="140.5" stroke="#000" stroke-width="3.2"/>
<line x1="130.0" y1="165.2" x2="138.0" y2="165.2" stroke="#000" stroke-width="3.2"/>
<line x1="478.5" y1="165.2" x2="470.5" y2="165.2" stroke="#000" stroke-width="3.2"/>
<line x1="130.0" y1="189.8" x2="138.0" y2="189.8" stroke="#000" stroke-width="3.2"/>
<line x1="478.5" y1="189.8" x2="470.5" y2="189.8" stroke="#000" stroke-width="3.2"/>
<line x1="130.0" y1="214.5" x2="138.0" y2="214.5" stroke="#000" stroke-width="3.2"/>
<line x1="478.5" y1="214.5" x2="470.5" y2="214.5" stroke="#000" stroke-width="3.2"/>
<line x1="130.0" y1="239.2" x2="138.0" y2="239.2" stroke="#000" stroke-width="3.2"/>
<line x1="478.5" y1="239.2" x2="470.5" y2="239.2" stroke="#000" stroke-width="3.2"/>
<line x1="130.0" y1="263.9" x2="145.0" y2="263.9" stroke="#000" stroke-width="3.2"/>
<line x1="478.5" y1="263.9" x2="463.5" y2="263.9" stroke="#000" stroke-width="3.2"/>
<line x1="130.0" y1="288.6" x2="138.0" y2="288.6" stroke="#000" stroke-width="3.2"/>
<line x1="478.5" y1="288.6" x2="470.5" y2="288.6" stroke="#000" stroke-width="3.2"/>
<line x1="130.0" y1="313.3" x2="138.0" y2="313.3" stroke="#000" stroke-width="3.2"/>
<line x1="478.5" y1="313.3" x2="470.5" y2="313.3" stroke="#000" stroke-width="3.2"/>
<line x1="130.0" y1="338.0" x2="138.0" y2="338.0" stroke="#000" stroke-width="3.2"/>
<line x1="478.5" y1="338.0" x2="470.5" y2="338.0" stroke="#000" stroke-width="3.2"/>
<line x1="130.0" y1="362.7" x2="138.0" y2="362.7" stroke="#000" stroke-width="3.2"/>
<line x1="478.5" y1="362.7" x2="470.5" y2="362.7" stroke="#000" stroke-width="3.2"/>
<line x1="130.0" y1="387.4" x2="145.0" y2="387.4" stroke="#000" stroke-width="3.2"/>
<line x1="478.5" y1="387.4" x2="463.5" y2="387.4" stroke="#000" stroke-width="3.2"/>
<line x1="130.0" y1="412.1" x2="138.0" y2="412.1" stroke="#000" stroke-width="3.2"/>
<line x1="478.5" y1="412.1" x2="470.5" y2="412.1" stroke="#000" stroke-width="3.2"/>
<line x1="130.0" y1="436.8" x2="138.0" y2="436.8" stroke="#000" stroke-width="3.2"/>
<line x1="478.5" y1="436.8" x2="470.5" y2="436.8" stroke="#000" stroke-width="3.2"/>
<line x1="130.0" y1="461.5" x2="138.0" y2="461.5" stroke="#000" stroke-width="3.2"/>
<line x1="478.5" y1="461.5" x2="470.5" y2="461.5" stroke="#000" stroke-width="3.2"/>
<line x1="130.0" y1="486.1" x2="138.0" y2="486.1" stroke="#000" stroke-width="3.2"/>
<line x1="478.5" y1="486.1" x2="470.5" y2="486.1" stroke="#000" stroke-width="3.2"/>
<line x1="130.0" y1="510.8" x2="145.0" y2="510.8" stroke="#000" stroke-width="3.2"/>
<line x1="478.5" y1="510.8" x2="463.5" y2="510.8" stroke="#000" stroke-width="3.2"/>
<line x1="130.0" y1="535.5" x2="138.0" y2="535.5" stroke="#000" stroke-width="3.2"/>
<line x1="478.5" y1="535.5" x2="470.5" y2="535.5" stroke="#000" stroke-width="3.2"/>
<line x1="130.0" y1="560.2" x2="138.0" y2="560.2" stroke="#000" stroke-width="3.2"/>
<line x1="478.5" y1="560.2" x2="470.5" y2="560.2" stroke="#000" stroke-width="3.2"/>
<line x1="130.0" y1="584.9" x2="138.0" y2="584.9" stroke="#000" stroke-width="3.2"/>
<line x1="478.5" y1="584.9" x2="470.5" y2="584.9" stroke="#000" stroke-width="3.2"/>
<line x1="130.0" y1="609.6" x2="138.0" y2="609.6" stroke="#000" stroke-width="3.2"/>
<line x1="478.5" y1="609.6" x2="470.5" y2="609.6" stroke="#000" stroke-width="3.2"/>
<line x1="130.0" y1="634.3" x2="145.0" y2="634.3" stroke="#000" stroke-width="3.2"/>
<line x1="478.5" y1="634.3" x2="463.5" y2="634.3" stroke="#000" stroke-width="3.2"/>
<line x1="130.0" y1="659.0" x2="138.0" y2="659.0" stroke="#000" stroke-width="3.2"/>
<line x1="478.5" y1="659.0" x2="470.5" y2="659.0" stroke="#000" stroke-width="3.2"/>
<line x1="130.0" y1="683.7" x2="138.0" y2="683.7" stroke="#000" stroke-width="3.2"/>
<line x1="478.5" y1="683.7" x2="470.5" y2="683.7" stroke="#000" stroke-width="3.2"/>
<line x1="130.0" y1="708.4" x2="138.0" y2="708.4" stroke="#000" stroke-width="3.2"/>
<line x1="478.5" y1="708.4" x2="470.5" y2="708.4" stroke="#000" stroke-width="3.2"/>
<line x1="130.0" y1="733.1" x2="138.0" y2="733.1" stroke="#000" stroke-width="3.2"/>
<line x1="478.5" y1="733.1" x2="470.5" y2="733.1" stroke="#000" stroke-width="3.2"/>
<line x1="130.0" y1="757.8" x2="145.0" y2="757.8" stroke="#000" stroke-width="3.2"/>
<line x1="478.5" y1="757.8" x2="463.5" y2="757.8" stroke="#000" stroke-width="3.2"/>
<line x1="130.0" y1="782.5" x2="138.0" y2="782.5" stroke="#000" stroke-width="3.2"/>
<line x1="478.5" y1="782.5" x2="470.5" y2="782.5" stroke="#000" stroke-width="3.2"/>
<line x1="130.0" y1="807.1" x2="138.0" y2="807.1" stroke="#000" stroke-width="3.2"/>
<line x1="478.5" y1="807.1" x2="470.5" y2="807.1" stroke="#000" stroke-width="3.2"/>
<line x1="499.9" y1="819.5" x2="499.9" y2="811.5" stroke="#000" stroke-width="3.2"/>
<line x1="499.9" y1="17.0" x2="499.9" y2="25.0" stroke="#000" stroke-width="3.2"/>
<line x1="521.3" y1="819.5" x2="521.3" y2="811.5" stroke="#000" stroke-width="3.2"/>
<line x1="521.3" y1="17.0" x2="521.3" y2="25.0" stroke="#000" stroke-width="3.2"/>
<line x1="542.7" y1="819.5" x2="542.7" y2="811.5" stroke="#000" stroke-width="3.2"/>
<line x1="542.7" y1="17.0" x2="542.7" y2="25.0" stroke="#000" stroke-width="3.2"/>
<line x1="564.1" y1="819.5" x2="564.1" y2="811.5" stroke="#000" stroke-width="3.2"/>
<line x1="564.1" y1="17.0" x2="564.1" y2="25.0" stroke="#000" stroke-width="3.2"/>
<line x1="585.5" y1="819.5" x2="585.5" y2="804.5" stroke="#000" stroke-width="3.2"/>
<line x1="585.5" y1="17.0" x2="585.5" y2="32.0" stroke="#000" stroke-width="3.2"/>
<line x1="606.9" y1="819.5" x2="606.9" y2="811.5" stroke="#000" stroke-width="3.2"/>
<line x1="606.9" y1="17.0" x2="606.9" y2="25.0" stroke="#000" stroke-width="3.2"/>
<line x1="628.3" y1="819.5" x2="628.3" y2="811.5" stroke="#000" stroke-width="3.2"/>
<line x1="628.3" y1="17.0" x2="628.3" y2="25.0" stroke="#000" stroke-width="3.2"/>
<line x1="649.7" y1="819.5" x2="649.7" y2="811.5" stroke="#000" stroke-width="3.2"/>
<line x1="649.7" y1="17.0" x2="649.7" y2="25.0" stroke="#000" stroke-width="3.2"/>
<line x1="671.1" y1="819.5" x2="671.1" y2="811.5" stroke="#000" stroke-width="3.2"/>
<line x1="671.1" y1="17.0" x2="671.1" y2="25.0" stroke="#000" stroke-width="3.2"/>
<line x1="692.5" y1="819.5" x2="692.5" y2="804.5" stroke="#000" stroke-width="3.2"/>
<line x1="692.5" y1="17.0" x2="692.5" y2="32.0" stroke="#000" stroke-width="3.2"/>
<line x1="713.9" y1="819.5" x2="713.9" y2="811.5" stroke="#000" stroke-width="3.2"/>
<line x1="713.9" y1="17.0" x2="713.9" y2="25.0" stroke="#000" stroke-width="3.2"/>
<line x1="735.3" y1="819.5" x2="735.3" y2="811.5" stroke="#000" stroke-width="3.2"/>
<line x1="735.3" y1="17.0" x2="735.3" y2="25.0" stroke="#000" stroke-width="3.2"/>
<line x1="756.7" y1="819.5" x2="756.7" y2="811.5" stroke="#000" stroke-width="3.2"/>
<line x1="756.7" y1="17.0" x2="756.7" y2="25.0" stroke="#000" stroke-width="3.2"/>
<line x1="778.1" y1="819.5" x2="778.1" y2="811.5" stroke="#000" stroke-width="3.2"/>
<line x1="778.1" y1="17.0" x2="778.1" y2="25.0" stroke="#000" stroke-width="3.2"/>
<line x1="799.5" y1="819.5" x2="799.5" y2="804.5" stroke="#000" stroke-width="3.2"/>
<line x1="799.5" y1="17.0" x2="799.5" y2="32.0" stroke="#000" stroke-width="3.2"/>
<line x1="820.9" y1="819.5" x2="820.9" y2="811.5" stroke="#000" stroke-width="3.2"/>
<line x1="820.9" y1="17.0" x2="820.9" y2="25.0" stroke="#000" stroke-width="3.2"/>
<line x1="842.3" y1="819.5" x2="842.3" y2="811.5" stroke="#000" stroke-width="3.2"/>
<line x1="842.3" y1="17.0" x2="842.3" y2="25.0" stroke="#000" stroke-width="3.2"/>
<line x1="863.7" y1="819.5" x2="863.7" y2="811.5" stroke="#000" stroke-width="3.2"/>
<line x1="863.7" y1="17.0" x2="863.7" y2="25.0" stroke="#000" stroke-width="3.2"/>
<line x1="885.1" y1="819.5" x2="885.1" y2="811.5" stroke="#000" stroke-width="3.2"/>
<line x1="885.1" y1="17.0" x2="885.1" y2="25.0" stroke="#000" stroke-width="3.2"/>
<line x1="906.5" y1="819.5" x2="906.5" y2="804.5" stroke="#000" stroke-width="3.2"/>
<line x1="906.5" y1="17.0" x2="906.5" y2="32.0" stroke="#000" stroke-width="3.2"/>
<line x1="927.9" y1="819.5" x2="927.9" y2="811.5" stroke="#000" stroke-width="3.2"/>
<line x1="927.9" y1="17.0" x2="927.9" y2="25.0" stroke="#000" stroke-width="3.2"/>
<line x1="949.3" y1="819.5" x2="949.3" y2="811.5" stroke="#000" stroke-width="3.2"/>
<line x1="949.3" y1="17.0" x2="949.3" y2="25.0" stroke="#000" stroke-width="3.2"/>
<line x1="970.7" y1="819.5" x2="970.7" y2="811.5" stroke="#000" stroke-width="3.2"/>
<line x1="970.7" y1="17.0" x2="970.7" y2="25.0" stroke="#000" stroke-width="3.2"/>
<line x1="992.1" y1="819.5" x2="992.1" y2="811.5" stroke="#000" stroke-width="3.2"/>
<line x1="992.1" y1="17.0" x2="992.1" y2="25.0" stroke="#000" stroke-width="3.2"/>
<line x1="1013.5" y1="819.5" x2="1013.5" y2="804.5" stroke="#000" stroke-width="3.2"/>
<line x1="1013.5" y1="17.0" x2="1013.5" y2="32.0" stroke="#000" stroke-width="3.2"/>
<line x1="1034.9" y1="819.5" x2="1034.9" y2="811.5" stroke="#000" stroke-width="3.2"/>
<line x1="1034.9" y1="17.0" x2="1034.9" y2="25.0" stroke="#000" stroke-width="3.2"/>
<line x1="1056.3" y1="819.5" x2="1056.3" y2="811.5" stroke="#000" stroke-width="3.2"/>
<line x1="1056.3" y1="17.0" x2="1056.3" y2="25.0" stroke="#000" stroke-width="3.2"/>
<line x1="1077.7" y1="819.5" x2="1077.7" y2="811.5" stroke="#000" stroke-width="3.2"/>
<line x1="1077.7" y1="17.0" x2="1077.7" y2="25.0" stroke="#000" stroke-width="3.2"/>
<line x1="1099.1" y1="819.5" x2="1099.1" y2="811.5" stroke="#000" stroke-width="3.2"/>
<line x1="1099.1" y1="17.0" x2="1099.1" y2="25.0" stroke="#000" stroke-width="3.2"/>
<line x1="1120.5" y1="819.5" x2="1120.5" y2="804.5" stroke="#000" stroke-width="3.2"/>
<line x1="1120.5" y1="17.0" x2="1120.5" y2="32.0" stroke="#000" stroke-width="3.2"/>
<line x1="1141.9" y1="819.5" x2="1141.9" y2="811.5" stroke="#000" stroke-width="3.2"/>
<line x1="1141.9" y1="17.0" x2="1141.9" y2="25.0" stroke="#000" stroke-width="3.2"/>
<line x1="1163.3" y1="819.5" x2="1163.3" y2="811.5" stroke="#000" stroke-width="3.2"/>
<line x1="1163.3" y1="17.0" x2="1163.3" y2="25.0" stroke="#000" stroke-width="3.2"/>
<text x="113" y="26.3" font-family="Liberation Sans" stroke-width="0.9" font-size="38" text-anchor="end" fill="#1c1c1c" stroke="#1c1c1c">648</text>
<text x="113" y="149.8" font-family="Liberation Sans" stroke-width="0.9" font-size="38" text-anchor="end" fill="#1c1c1c" stroke="#1c1c1c">646</text>
<text x="113" y="273.2" font-family="Liberation Sans" stroke-width="0.9" font-size="38" text-anchor="end" fill="#1c1c1c" stroke="#1c1c1c">644</text>
<text x="113" y="396.7" font-family="Liberation Sans" stroke-width="0.9" font-size="38" text-anchor="end" fill="#1c1c1c" stroke="#1c1c1c">642</text>
<text x="113" y="521.7" font-family="Liberation Sans" stroke-width="0.9" font-size="38" text-anchor="end" fill="#1c1c1c" stroke="#1c1c1c">640</text>
<text x="113" y="645.2" font-family="Liberation Sans" stroke-width="0.9" font-size="38" text-anchor="end" fill="#1c1c1c" stroke="#1c1c1c">638</text>
<text x="113" y="768.7" font-family="Liberation Sans" stroke-width="0.9" font-size="38" text-anchor="end" fill="#1c1c1c" stroke="#1c1c1c">636</text>
<text x="478.5" y="866" font-family="Liberation Sans" stroke-width="0.9" font-size="38" text-anchor="middle" fill="#1c1c1c" stroke="#1c1c1c">10</text>
<text x="585.5" y="866" font-family="Liberation Sans" stroke-width="0.9" font-size="38" text-anchor="middle" fill="#1c1c1c" stroke="#1c1c1c">8</text>
<text x="692.5" y="866" font-family="Liberation Sans" stroke-width="0.9" font-size="38" text-anchor="middle" fill="#1c1c1c" stroke="#1c1c1c">6</text>
<text x="799.5" y="866" font-family="Liberation Sans" stroke-width="0.9" font-size="38" text-anchor="middle" fill="#1c1c1c" stroke="#1c1c1c">4</text>
<text x="906.5" y="866" font-family="Liberation Sans" stroke-width="0.9" font-size="38" text-anchor="middle" fill="#1c1c1c" stroke="#1c1c1c">2</text>
<text x="1013.5" y="866" font-family="Liberation Sans" stroke-width="0.9" font-size="38" text-anchor="middle" fill="#1c1c1c" stroke="#1c1c1c">0</text>
<text x="1120.5" y="866" font-family="Liberation Sans" stroke-width="0.9" font-size="38" text-anchor="middle" fill="#1c1c1c" stroke="#1c1c1c">-2</text>
<text x="1183" y="253" font-family="Liberation Sans" stroke-width="0.9" font-size="37.5" fill="#222" stroke="#222">643.8</text>
<text x="1183" y="381" font-family="Liberation Sans" stroke-width="0.9" font-size="37.5" fill="#222" stroke="#222">641.8</text>
<text x="1185" y="458" font-family="Liberation Sans" stroke-width="0.9" font-size="37.5" fill="#222" stroke="#222">640.8</text>
<text x="1183" y="581" font-family="Liberation Sans" stroke-width="0.9" font-size="37.5" fill="#222" stroke="#222">639.7</text>
<text x="1188" y="721" font-family="Liberation Sans" stroke-width="0.9" font-size="37.5" fill="#222" stroke="#222">639.2</text>
<text x="1183" y="770" font-family="Liberation Sans" stroke-width="0.9" font-size="37.5" fill="#222" stroke="#222">638.4</text>
<text x="1183" y="820" font-family="Liberation Sans" stroke-width="0.9" font-size="37.5" fill="#a8a8a8" stroke="#a8a8a8">636.6</text>
<text x="621" y="938.5" font-family="Liberation Sans" stroke-width="0.9" font-size="47.3" fill="#1c1c1c" stroke="#1c1c1c" transform="translate(-2.5,0)">Binding energy (eV)</text>
<text transform="translate(33,619) rotate(-90)" font-family="Liberation Sans" stroke-width="0.9" font-size="44.5" fill="#1c1c1c" stroke="#1c1c1c">Photon energy (eV)</text>
<text x="837" y="79" font-family="Liberation Sans" stroke-width="0.9" font-size="55" fill="#111" stroke="#111">t</text>
<text x="852" y="99.4" font-family="Liberation Sans" stroke-width="0.9" font-size="33" fill="#111" stroke="#111">2g</text>
<text x="988" y="99.4" font-family="Liberation Sans" stroke-width="0.9" font-size="54" fill="#111" stroke="#111">E</text>
<text x="1026" y="121.7" font-family="Liberation Sans" stroke-width="0.9" font-size="35" fill="#111" stroke="#111">F</text>
<text x="927.5" y="265" font-family="Liberation Sans" stroke-width="0.9" font-size="53" fill="#111" stroke="#111">e</text>
<text x="959" y="286.5" font-family="Liberation Sans" stroke-width="0.9" font-size="30.5" fill="#111" stroke="#111">g</text>
<text x="327" y="411.5" font-family="Liberation Sans" stroke-width="0.9" font-size="46" fill="#1c1c1c" stroke="#1c1c1c">Mn</text>
<text x="390" y="386.5" font-family="Liberation Sans" stroke-width="0.9" font-size="27" fill="#444" stroke="#444">3</text>
<text x="407.5" y="382" font-family="Liberation Sans" stroke-width="0.9" font-size="17" fill="#444" stroke="#444">+</text>
</g>
</svg>
</body></html>
